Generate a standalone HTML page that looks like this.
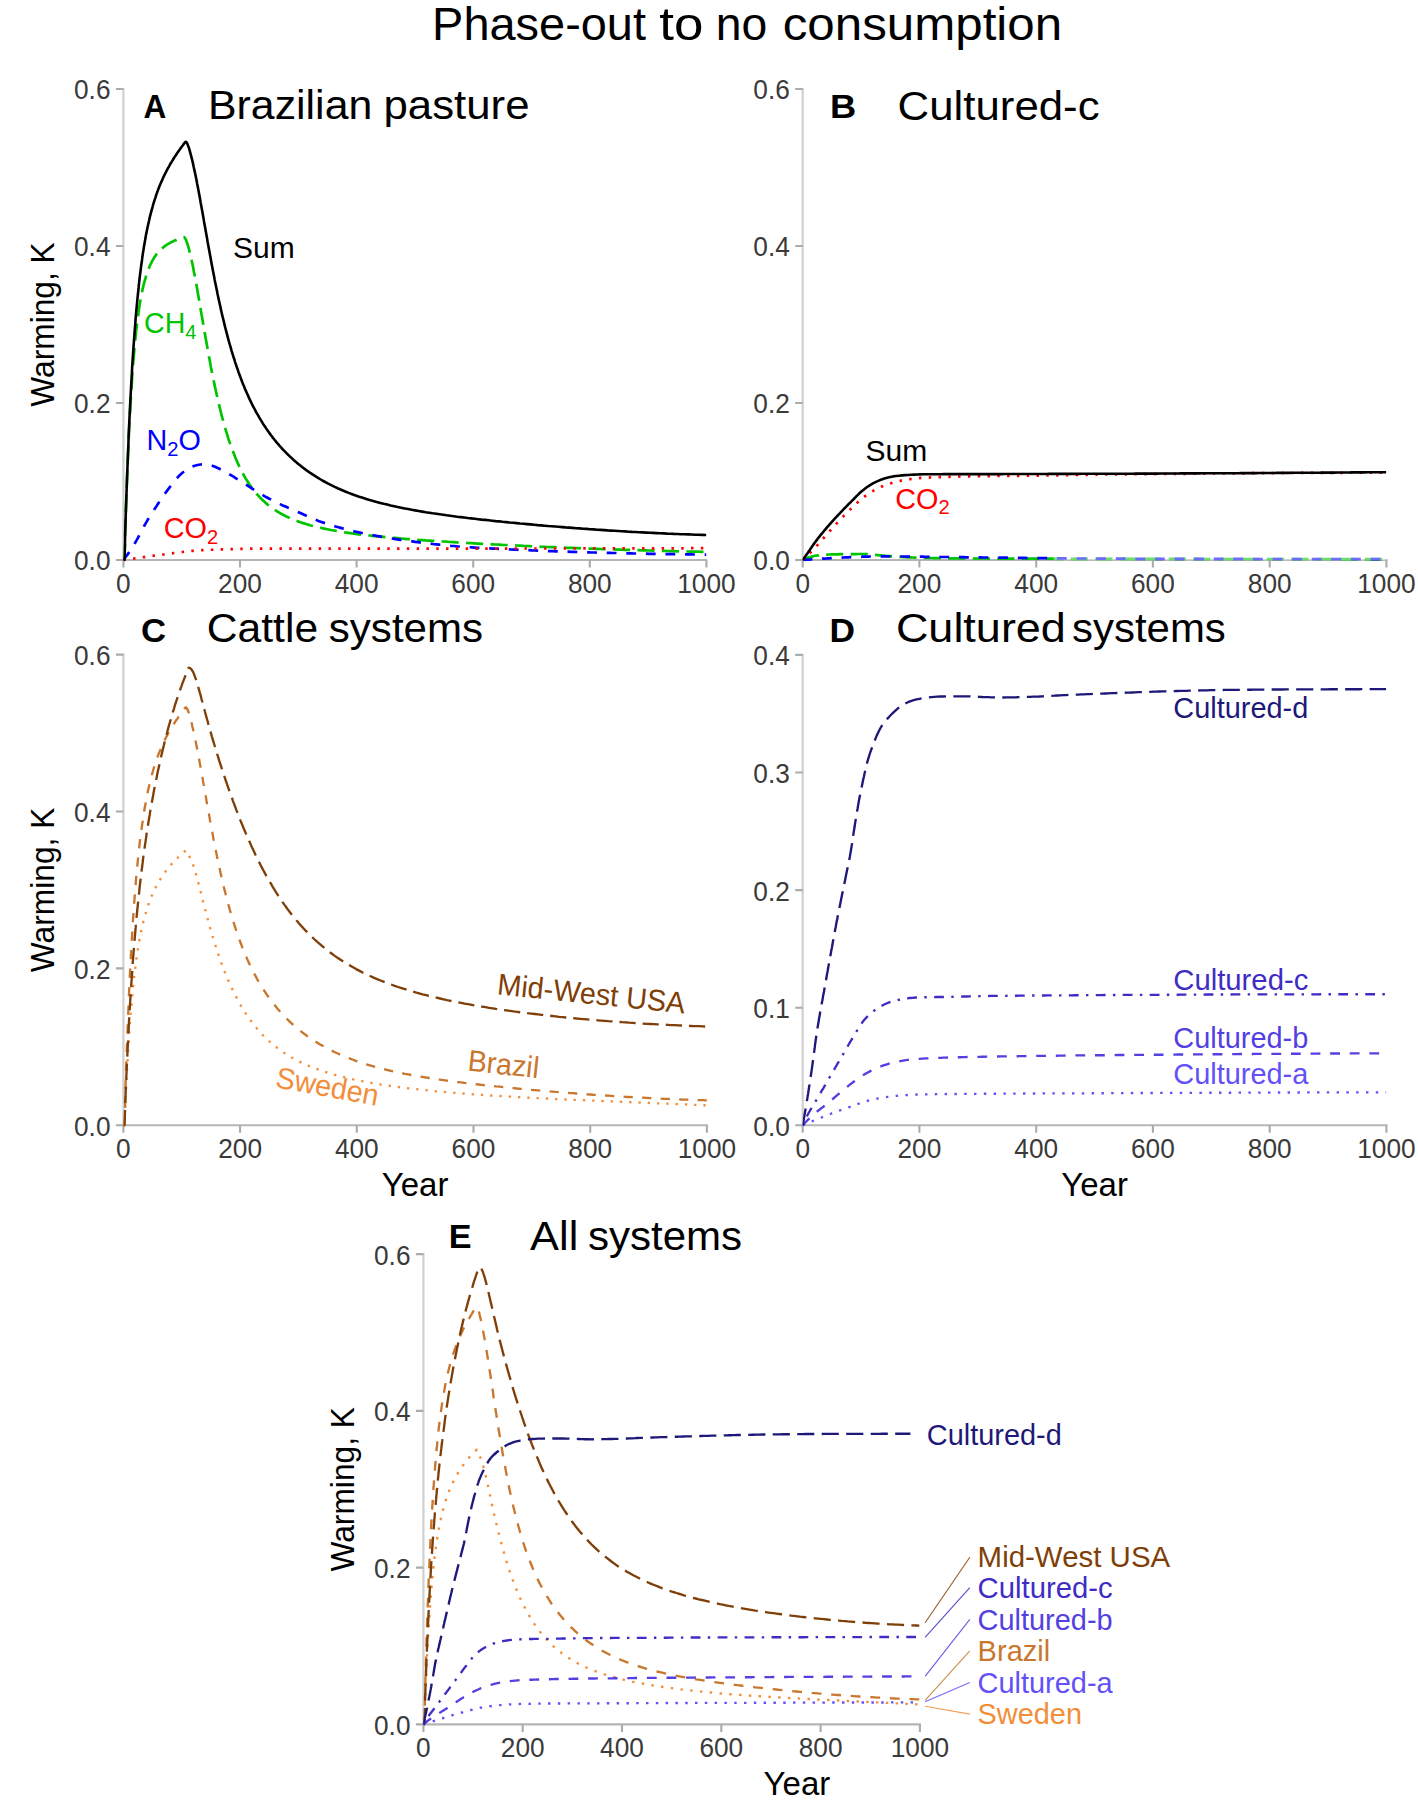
<!DOCTYPE html>
<html lang="en"><head><meta charset="utf-8"><title>Phase-out to no consumption</title>
<style>
html,body{margin:0;padding:0;background:#fff;}
body{width:1418px;height:1801px;overflow:hidden;}
svg{display:block;font-family:"Liberation Sans",sans-serif;}
.tk text{font-size:27px;fill:#3a3a3a;}
.at{font-size:33px;fill:#000;}
.lb{font-size:30px;}
.sub{font-size:21px;}
.mt{font-size:46px;fill:#000;}
.pt{font-size:41.5px;fill:#000;}
.pl{font-size:33.5px;font-weight:bold;fill:#000;}
</style></head><body>
<svg width="1418" height="1801" viewBox="0 0 1418 1801">
<rect width="1418" height="1801" fill="#fff"/>
<text class="mt" y="40.3"><tspan x="432.1" textLength="213.9" lengthAdjust="spacingAndGlyphs">Phase-out</tspan> <tspan x="659.3" textLength="44.1" lengthAdjust="spacingAndGlyphs">to</tspan> <tspan x="715.8" textLength="51.5" lengthAdjust="spacingAndGlyphs">no</tspan> <tspan x="782.7" textLength="279.4" lengthAdjust="spacingAndGlyphs">consumption</tspan></text>
<path d="M123.4,88.0V561.0" fill="none" stroke="#d0d0d0" stroke-width="2.2"/>
<path d="M122.4,560.0H707.4" fill="none" stroke="#b6b6b6" stroke-width="2.1"/>
<path d="M115.9,560.0H123.4M115.9,403.0H123.4M115.9,246.0H123.4M115.9,89.0H123.4M123.4,560.0V567.5M240.0,560.0V567.5M356.6,560.0V567.5M473.2,560.0V567.5M589.8,560.0V567.5M706.4,560.0V567.5" fill="none" stroke="#ababab" stroke-width="2.1"/>
<g class="tk" text-anchor="end">
<text x="110.5" y="570.4" textLength="36.5" lengthAdjust="spacingAndGlyphs">0.0</text>
<text x="110.5" y="413.4" textLength="36.5" lengthAdjust="spacingAndGlyphs">0.2</text>
<text x="110.5" y="256.4" textLength="36.5" lengthAdjust="spacingAndGlyphs">0.4</text>
<text x="110.5" y="99.4" textLength="36.5" lengthAdjust="spacingAndGlyphs">0.6</text>
</g><g class="tk" text-anchor="middle">
<text x="123.4" y="593.0" textLength="14.6" lengthAdjust="spacingAndGlyphs">0</text>
<text x="240.0" y="593.0" textLength="43.8" lengthAdjust="spacingAndGlyphs">200</text>
<text x="356.6" y="593.0" textLength="43.8" lengthAdjust="spacingAndGlyphs">400</text>
<text x="473.2" y="593.0" textLength="43.8" lengthAdjust="spacingAndGlyphs">600</text>
<text x="589.8" y="593.0" textLength="43.8" lengthAdjust="spacingAndGlyphs">800</text>
<text x="706.4" y="593.0" textLength="58.4" lengthAdjust="spacingAndGlyphs">1000</text>
</g>
<text class="at" text-anchor="middle" transform="translate(54.0,324.5) rotate(-90)" textLength="164.5" lengthAdjust="spacingAndGlyphs">Warming, K</text>
<clipPath id="cpA"><rect x="123.4" y="69.0" width="583.0" height="492.3"/></clipPath>
<g clip-path="url(#cpA)">
<polyline points="123.4,560.0 123.7,560.0 124.0,560.0 124.3,560.0 124.6,555.7 124.9,545.4 125.1,535.3 125.4,525.7 125.7,516.4 126.0,507.4 126.3,498.8 126.6,490.4 126.9,482.4 127.2,474.6 127.5,467.1 127.8,459.9 128.1,453.0 128.4,446.2 128.6,439.7 128.9,433.5 129.2,427.4 129.5,421.6 129.8,416.0 130.1,410.6 130.4,405.3 130.7,400.2 131.0,395.3 131.3,390.6 131.6,386.1 131.9,381.6 132.1,377.4 132.4,373.3 132.7,369.3 133.0,365.4 133.3,361.7 133.6,358.1 133.9,354.7 134.2,351.3 134.5,348.0 134.8,344.9 135.1,341.9 135.4,338.9 135.6,336.1 135.9,333.3 136.2,330.7 136.5,328.1 136.8,325.6 137.1,323.2 137.4,320.8 137.7,318.6 138.0,316.4 138.3,314.3 138.6,312.2 138.8,310.2 139.1,308.3 139.4,306.4 139.7,304.6 140.0,302.8 140.3,301.1 140.6,299.5 140.9,297.9 141.2,296.3 141.5,294.8 141.8,293.3 142.1,291.9 142.3,290.5 142.6,289.2 142.9,287.9 143.2,286.6 143.5,285.4 143.8,284.2 144.1,283.1 144.4,281.9 144.7,280.8 145.0,279.8 145.3,278.8 145.6,277.8 145.8,276.8 146.1,275.8 146.4,274.9 146.7,274.0 147.3,272.3 147.9,270.7 148.5,269.1 149.1,267.7 149.6,266.3 150.2,265.0 150.8,263.7 151.4,262.6 152.0,261.4 152.6,260.4 153.1,259.3 153.7,258.4 154.3,257.4 154.9,256.6 155.5,255.7 156.0,254.9 156.6,254.1 157.2,253.4 157.8,252.7 158.4,252.0 159.0,251.4 159.5,250.8 160.1,250.2 160.7,249.6 161.3,249.0 161.9,248.5 162.5,248.0 163.0,247.5 163.6,247.1 164.2,246.6 164.8,246.2 165.4,245.7 166.0,245.3 166.5,244.9 167.1,244.6 167.7,244.2 168.3,243.8 168.9,243.5 169.5,243.2 170.0,242.9 170.6,242.5 171.2,242.2 171.8,241.9 172.4,241.7 173.0,241.4 173.5,241.1 174.1,240.8 174.7,240.6 175.3,240.3 175.9,240.1 176.5,239.9 177.0,239.6 177.6,239.4 178.2,239.2 178.8,239.0 179.4,238.7 180.0,238.5 180.5,238.3 181.1,238.1 181.7,237.9 182.3,237.7 182.9,237.6 183.4,237.4 184.0,237.2 184.6,237.6 185.2,238.4 185.8,239.5 186.4,240.9 186.9,242.4 187.5,244.2 188.1,246.1 188.7,248.2 189.3,250.4 189.9,252.7 190.4,255.2 191.0,257.7 191.6,260.3 192.2,263.0 192.8,265.8 193.4,268.7 193.9,271.7 194.5,274.7 195.1,277.8 195.7,280.9 196.3,284.1 196.9,287.3 197.4,290.6 198.0,293.9 198.6,297.3 199.2,300.6 199.8,304.0 200.4,307.4 200.9,310.8 201.5,314.2 202.1,317.6 202.7,321.0 203.3,324.4 203.9,327.7 204.4,331.1 205.0,334.4 205.6,337.8 206.2,341.1 206.8,344.4 207.4,347.6 207.9,350.8 208.5,354.0 209.1,357.2 209.7,360.3 210.3,363.4 210.8,366.4 211.4,369.4 212.0,372.4 212.6,375.3 213.2,378.2 213.8,381.1 214.3,383.9 214.9,386.6 215.5,389.3 216.1,392.0 216.7,394.6 217.3,397.2 217.8,399.8 218.4,402.3 219.0,404.7 219.6,407.1 220.2,409.5 220.8,411.8 221.3,414.1 221.9,416.4 222.5,418.6 223.1,420.7 223.7,422.8 224.3,424.9 224.8,426.9 225.4,428.9 226.0,430.9 226.6,432.8 227.2,434.7 227.8,436.6 228.3,438.4 228.9,440.2 229.5,441.9 230.1,443.6 230.7,445.3 231.3,446.9 231.8,448.5 232.4,450.1 233.0,451.6 233.6,453.1 234.2,454.6 234.8,456.1 235.3,457.5 235.9,458.9 236.5,460.2 237.1,461.6 237.7,462.9 238.3,464.2 238.8,465.4 239.4,466.7 240.0,467.9 240.6,469.1 241.2,470.2 241.7,471.3 242.3,472.5 242.9,473.5 243.5,474.6 244.1,475.7 244.7,476.7 245.2,477.7 245.8,478.7 246.4,479.6 247.0,480.6 247.6,481.5 248.2,482.4 248.7,483.3 249.3,484.2 249.9,485.0 250.5,485.9 251.1,486.7 251.7,487.5 252.2,488.3 252.8,489.1 253.4,489.8 254.0,490.6 254.6,491.3 255.2,492.0 255.7,492.7 256.3,493.4 256.9,494.1 257.5,494.8 258.1,495.4 258.7,496.1 259.2,496.7 259.8,497.3 260.4,497.9 261.0,498.5 261.6,499.1 262.2,499.7 262.7,500.2 263.3,500.8 263.9,501.3 264.5,501.8 265.1,502.4 265.7,502.9 266.2,503.4 266.8,503.9 267.4,504.4 268.0,504.8 268.6,505.3 269.1,505.8 269.7,506.2 270.3,506.7 270.9,507.1 271.5,507.5 272.1,508.0 272.6,508.4 273.2,508.8 273.8,509.2 274.4,509.6 275.0,510.0 275.6,510.4 276.1,510.7 276.7,511.1 277.3,511.5 277.9,511.8 278.5,512.2 279.1,512.5 279.6,512.9 280.2,513.2 280.8,513.5 281.4,513.9 282.0,514.2 282.6,514.5 283.1,514.8 283.7,515.1 284.3,515.4 284.9,515.7 285.5,516.0 286.1,516.3 286.6,516.6 287.2,516.9 287.8,517.1 288.4,517.4 289.0,517.7 289.6,517.9 290.1,518.2 290.7,518.4 291.3,518.7 291.9,518.9 292.5,519.2 293.1,519.4 293.6,519.7 294.2,519.9 294.8,520.1 295.4,520.4 296.0,520.6 296.6,520.8 297.1,521.0 297.7,521.2 298.3,521.5 298.9,521.7 299.5,521.9 300.0,522.1 300.6,522.3 301.2,522.5 301.8,522.7 302.4,522.9 303.0,523.1 303.5,523.2 304.1,523.4 304.7,523.6 305.3,523.8 305.9,524.0 306.5,524.1 307.0,524.3 307.6,524.5 308.2,524.7 308.8,524.8 309.4,525.0 310.0,525.2 313.5,526.1 317.0,527.0 320.5,527.8 324.0,528.6 327.4,529.3 330.9,530.0 334.4,530.6 337.9,531.2 341.4,531.8 344.9,532.4 348.4,532.9 351.9,533.4 355.4,533.8 358.9,534.3 362.4,534.7 365.9,535.1 369.4,535.5 372.9,535.9 376.4,536.3 379.9,536.6 383.4,536.9 386.9,537.3 390.4,537.6 393.9,537.9 397.4,538.2 400.9,538.5 404.4,538.8 407.9,539.1 411.4,539.3 414.9,539.6 418.4,539.9 421.9,540.1 425.4,540.4 428.9,540.6 432.4,540.8 435.9,541.1 439.4,541.3 442.9,541.5 446.4,541.7 449.9,542.0 453.4,542.2 456.9,542.4 460.4,542.6 463.9,542.8 467.4,543.0 470.9,543.2 474.4,543.4 477.9,543.6 481.4,543.8 484.9,544.0 488.4,544.1 491.9,544.3 495.4,544.5 498.9,544.7 502.4,544.9 505.8,545.0 509.3,545.2 512.8,545.4 516.3,545.5 519.8,545.7 523.3,545.9 526.8,546.0 530.3,546.2 533.8,546.3 537.3,546.5 540.8,546.7 544.3,546.8 547.8,547.0 551.3,547.1 554.8,547.2 558.3,547.4 561.8,547.5 565.3,547.7 568.8,547.8 572.3,547.9 575.8,548.1 579.3,548.2 582.8,548.3 586.3,548.5 589.8,548.6 593.3,548.7 596.8,548.8 600.3,549.0 603.8,549.1 607.3,549.2 610.8,549.3 614.3,549.4 617.8,549.6 621.3,549.7 624.8,549.8 628.3,549.9 631.8,550.0 635.3,550.1 638.8,550.2 642.3,550.3 645.8,550.4 649.3,550.5 652.8,550.6 656.3,550.7 659.8,550.8 663.3,550.9 666.8,551.0 670.3,551.1 673.8,551.2 677.2,551.3 680.7,551.3 684.2,551.4 687.7,551.5 691.2,551.6 694.7,551.7 698.2,551.7 701.7,551.8 705.2,551.9 706.4,551.9" fill="none" stroke="#00c400" stroke-width="2.7" stroke-linejoin="round" stroke-dasharray="17.15 7.35"/>
<polyline points="123.4,560.0 124.0,559.2 124.6,558.4 125.2,557.6 125.8,556.8 126.4,556.0 127.0,555.2 127.6,554.4 128.2,553.6 128.7,552.8 129.3,551.9 129.9,551.1 130.4,550.3 131.0,549.5 131.6,548.6 132.1,547.8 132.6,546.9 133.2,546.1 133.7,545.2 134.2,544.4 134.7,543.5 135.2,542.7 135.7,541.8 136.2,540.9 136.7,540.1 137.2,539.2 137.7,538.3 138.2,537.4 138.6,536.5 139.1,535.7 139.6,534.8 140.0,533.9 140.5,533.0 141.0,532.1 141.4,531.2 141.9,530.3 142.3,529.5 142.8,528.6 143.3,527.7 143.8,526.8 144.2,525.9 144.7,525.0 145.2,524.2 145.7,523.3 146.2,522.4 146.7,521.6 147.2,520.7 147.7,519.8 148.2,519.0 148.7,518.1 149.3,517.3 149.8,516.4 150.3,515.6 150.9,514.7 151.4,513.9 151.9,513.1 152.5,512.2 153.0,511.4 153.6,510.5 154.1,509.7 154.7,508.9 155.2,508.0 155.8,507.2 156.3,506.4 156.9,505.5 157.4,504.7 158.0,503.9 158.5,503.0 159.1,502.2 159.7,501.4 160.2,500.5 160.8,499.7 161.3,498.9 161.9,498.1 162.5,497.2 163.0,496.4 163.6,495.6 164.2,494.8 164.8,493.9 165.3,493.1 166.5,491.5 168.3,489.1 170.1,486.7 171.9,484.3 173.8,481.9 175.7,479.6 177.7,477.4 179.7,475.2 181.9,473.2 184.3,471.3 186.7,469.6 189.3,468.1 191.9,466.8 194.7,465.7 197.6,465.0 200.5,464.5 203.4,464.4 206.4,464.6 209.3,465.1 212.2,465.8 215.0,466.8 217.7,468.0 220.4,469.3 223.1,470.7 225.7,472.2 228.3,473.7 230.9,475.2 233.5,476.7 236.0,478.3 238.6,479.9 241.1,481.5 243.6,483.1 246.2,484.7 248.7,486.3 251.2,488.0 253.7,489.6 256.3,491.2 258.8,492.8 261.4,494.3 264.0,495.8 266.6,497.3 269.3,498.7 271.9,500.1 274.6,501.5 277.3,502.8 280.0,504.1 282.7,505.4 285.5,506.6 288.2,507.8 291.0,508.9 293.7,510.1 296.5,511.3 299.2,512.5 302.0,513.7 304.7,515.0 307.4,516.2 310.2,517.4 312.9,518.6 315.7,519.8 318.5,520.9 321.3,521.9 324.2,522.9 327.0,523.8 329.9,524.7 332.7,525.6 335.6,526.5 338.5,527.3 341.4,528.1 344.3,528.9 347.2,529.6 350.1,530.4 353.0,531.0 356.0,531.7 358.9,532.4 361.8,533.0 364.8,533.6 367.7,534.2 370.7,534.8 373.6,535.3 376.6,535.9 379.5,536.4 382.5,536.9 385.4,537.4 388.4,537.9 391.4,538.4 394.3,538.9 397.3,539.3 400.3,539.8 403.2,540.2 406.2,540.6 409.2,541.0 412.2,541.4 415.1,541.8 418.1,542.2 421.1,542.6 424.1,542.9 427.0,543.3 430.0,543.6 433.0,544.0 436.0,544.3 439.0,544.6 442.0,544.9 445.0,545.2 447.9,545.5 450.9,545.8 453.9,546.0 456.9,546.3 459.9,546.5 462.9,546.7 465.9,547.0 468.9,547.2 471.9,547.4 474.9,547.6 477.9,547.8 480.9,547.9 483.9,548.1 486.9,548.3 489.9,548.4 492.9,548.6 495.9,548.7 498.9,548.9 501.9,549.0 504.9,549.2 507.9,549.3 510.9,549.5 513.9,549.6 516.8,549.7 519.8,549.9 522.8,550.0 525.8,550.1 528.8,550.2 531.8,550.4 534.8,550.5 537.8,550.6 540.8,550.7 543.8,550.9 546.8,551.0 549.8,551.1 552.8,551.2 555.8,551.3 558.8,551.4 561.8,551.5 564.8,551.6 567.8,551.7 570.8,551.8 573.8,551.9 576.8,552.0 579.8,552.1 582.8,552.2 585.8,552.3 588.8,552.4 591.8,552.5 594.8,552.5 597.8,552.6 600.9,552.7 603.9,552.8 606.9,552.8 609.9,552.9 612.9,553.0 615.9,553.0 618.9,553.1 621.9,553.2 624.9,553.3 627.9,553.3 630.9,553.4 633.9,553.5 636.9,553.5 639.9,553.6 642.9,553.6 645.9,553.7 648.9,553.8 651.9,553.8 654.9,553.9 657.9,553.9 660.9,554.0 663.9,554.0 666.9,554.1 669.9,554.1 672.9,554.2 675.9,554.2 678.9,554.3 681.9,554.3 684.9,554.4 687.9,554.4 690.9,554.4 693.9,554.5 696.9,554.5 699.9,554.5 702.9,554.6 705.9,554.6 706.4,554.6" fill="none" stroke="#0000ff" stroke-width="2.7" stroke-linejoin="round" stroke-dasharray="9.80 9.80"/>
<polyline points="123.4,560.0 124.4,559.9 125.4,559.7 126.4,559.6 127.4,559.4 128.4,559.3 129.3,559.2 130.3,559.0 131.3,558.9 132.3,558.7 133.3,558.6 134.3,558.5 135.3,558.3 136.3,558.2 137.3,558.0 138.3,557.9 139.2,557.8 140.2,557.6 141.2,557.5 142.2,557.3 143.2,557.2 144.2,557.1 145.2,556.9 146.2,556.8 147.2,556.7 148.2,556.5 149.2,556.4 150.1,556.2 151.1,556.1 152.1,556.0 153.1,555.8 154.1,555.7 155.1,555.6 156.1,555.4 157.1,555.3 158.1,555.2 159.1,555.0 160.1,554.9 161.0,554.8 162.0,554.6 163.0,554.5 164.0,554.4 165.0,554.2 166.0,554.1 167.0,554.0 168.0,553.8 169.0,553.7 170.0,553.6 171.0,553.4 172.0,553.3 172.9,553.2 173.9,553.0 174.9,552.9 175.9,552.8 176.9,552.6 177.9,552.5 178.9,552.4 179.9,552.2 180.9,552.1 181.9,552.0 182.9,551.9 183.9,551.7 184.8,551.6 185.8,551.5 186.8,551.4 187.8,551.3 188.8,551.2 189.8,551.1 190.8,551.0 191.8,550.9 192.8,550.8 193.8,550.7 194.8,550.7 195.8,550.6 196.8,550.5 197.8,550.4 198.8,550.4 199.8,550.3 200.8,550.3 201.8,550.2 203.8,550.1 206.8,549.9 209.8,549.8 212.8,549.7 215.8,549.5 218.8,549.4 221.8,549.3 224.8,549.3 227.8,549.2 230.8,549.1 233.8,549.0 236.8,548.9 239.8,548.9 242.8,548.8 245.8,548.8 248.8,548.7 251.8,548.7 254.8,548.7 257.8,548.7 260.8,548.7 263.8,548.7 266.8,548.7 269.8,548.7 272.8,548.7 275.8,548.7 278.8,548.7 281.8,548.7 284.8,548.7 287.8,548.7 290.8,548.7 293.8,548.7 296.8,548.7 299.8,548.7 302.8,548.7 305.8,548.7 308.8,548.7 311.8,548.7 314.8,548.7 317.8,548.7 320.8,548.7 323.8,548.7 326.8,548.7 329.8,548.7 332.8,548.7 335.8,548.7 338.8,548.7 341.8,548.7 344.8,548.7 347.8,548.7 350.8,548.7 353.8,548.7 356.8,548.7 359.8,548.7 362.8,548.7 365.8,548.7 368.8,548.7 371.8,548.7 374.8,548.7 377.8,548.7 380.8,548.7 383.8,548.7 386.8,548.7 389.8,548.7 392.8,548.7 395.8,548.7 398.8,548.7 401.8,548.7 404.8,548.7 407.8,548.7 410.8,548.7 413.8,548.7 416.8,548.7 419.8,548.7 422.8,548.6 425.8,548.6 428.8,548.6 431.8,548.6 434.8,548.6 437.8,548.6 440.8,548.6 443.8,548.6 446.8,548.6 449.8,548.6 452.8,548.6 455.8,548.6 458.8,548.6 461.8,548.6 464.8,548.6 467.8,548.6 470.8,548.6 473.8,548.6 476.8,548.6 479.8,548.6 482.8,548.6 485.8,548.6 488.8,548.6 491.8,548.6 494.8,548.6 497.8,548.6 500.8,548.6 503.8,548.6 506.8,548.6 509.8,548.6 512.8,548.6 515.8,548.5 518.8,548.5 521.8,548.5 524.8,548.5 527.9,548.5 530.9,548.5 533.9,548.5 536.9,548.5 539.9,548.5 542.9,548.5 545.9,548.5 548.9,548.5 551.9,548.5 554.9,548.5 557.9,548.5 560.9,548.5 563.9,548.5 566.9,548.5 569.9,548.5 572.9,548.5 575.9,548.5 578.9,548.5 581.9,548.5 584.9,548.4 587.9,548.4 590.9,548.4 593.9,548.4 596.9,548.4 599.9,548.4 602.9,548.4 605.9,548.4 608.9,548.4 611.9,548.4 614.9,548.4 617.9,548.4 620.9,548.4 623.9,548.4 626.9,548.4 629.9,548.4 632.9,548.4 635.9,548.4 638.9,548.3 641.9,548.3 644.9,548.3 647.9,548.3 650.9,548.3 653.9,548.3 656.9,548.3 659.9,548.3 662.9,548.3 665.9,548.3 668.9,548.3 671.9,548.3 674.9,548.3 677.9,548.3 680.9,548.3 683.9,548.3 686.9,548.2 689.9,548.2 692.9,548.2 695.9,548.2 698.9,548.2 701.9,548.2 704.9,548.2 706.4,548.2" fill="none" stroke="#ff0000" stroke-width="2.7" stroke-linejoin="round" stroke-dasharray="2.45 7.35"/>
<polyline points="123.4,560.0 123.7,560.0 124.0,560.0 124.3,560.0 124.6,555.8 124.9,545.5 125.1,535.6 125.4,526.0 125.7,516.6 126.0,507.5 126.3,498.8 126.6,490.2 126.9,482.0 127.2,474.0 127.5,466.2 127.8,458.6 128.1,451.3 128.4,444.2 128.6,437.3 128.9,430.6 129.2,424.1 129.5,417.7 129.8,411.6 130.1,405.6 130.4,399.8 130.7,394.2 131.0,388.7 131.3,383.4 131.6,378.2 131.9,373.2 132.1,368.3 132.4,363.5 132.7,358.9 133.0,354.4 133.3,350.0 133.6,345.7 133.9,341.6 134.2,337.5 134.5,333.6 134.8,329.8 135.1,326.0 135.4,322.4 135.6,318.8 135.9,315.4 136.2,312.0 136.5,308.7 136.8,305.5 137.1,302.4 137.4,299.4 137.7,296.4 138.0,293.5 138.3,290.7 138.6,287.9 138.8,285.2 139.1,282.6 139.4,280.0 139.7,277.5 140.0,275.0 140.3,272.7 140.6,270.3 140.9,268.0 141.2,265.8 141.5,263.6 141.8,261.5 142.1,259.4 142.3,257.4 142.6,255.4 142.9,253.4 143.2,251.5 143.5,249.6 143.8,247.8 144.1,246.0 144.4,244.3 144.7,242.5 145.0,240.8 145.3,239.2 145.6,237.6 145.8,236.0 146.1,234.5 146.4,232.9 146.7,231.4 147.3,228.5 147.9,225.8 148.5,223.1 149.1,220.5 149.6,218.0 150.2,215.6 150.8,213.3 151.4,211.1 152.0,208.9 152.6,206.8 153.1,204.8 153.7,202.8 154.3,200.9 154.9,199.1 155.5,197.3 156.0,195.5 156.6,193.9 157.2,192.2 157.8,190.6 158.4,189.1 159.0,187.6 159.5,186.1 160.1,184.7 160.7,183.3 161.3,181.9 161.9,180.6 162.5,179.3 163.0,178.0 163.6,176.7 164.2,175.5 164.8,174.3 165.4,173.1 166.0,172.0 166.5,170.9 167.1,169.8 167.7,168.7 168.3,167.6 168.9,166.6 169.5,165.5 170.0,164.5 170.6,163.5 171.2,162.5 171.8,161.6 172.4,160.6 173.0,159.7 173.5,158.7 174.1,157.8 174.7,156.9 175.3,156.0 175.9,155.1 176.5,154.3 177.0,153.4 177.6,152.5 178.2,151.7 178.8,150.9 179.4,150.0 180.0,149.2 180.5,148.4 181.1,147.6 181.7,146.8 182.3,146.0 182.9,145.2 183.4,144.4 184.0,143.6 184.6,142.9 184.9,142.5 185.5,141.9 186.1,141.9 186.6,142.5 187.2,143.5 187.8,144.9 188.4,146.4 189.0,148.2 189.6,150.1 190.1,152.1 190.7,154.3 191.3,156.6 191.9,158.9 192.5,161.4 193.1,163.9 193.6,166.5 194.2,169.2 194.8,171.9 195.4,174.7 196.0,177.6 196.6,180.5 197.1,183.5 197.7,186.5 198.3,189.6 198.9,192.7 199.5,195.9 200.1,199.1 200.6,202.3 201.2,205.6 201.8,208.8 202.4,212.1 203.0,215.4 203.6,218.7 204.1,222.0 204.7,225.3 205.3,228.6 205.9,232.0 206.5,235.3 207.1,238.6 207.6,241.8 208.2,245.1 208.8,248.3 209.4,251.6 210.0,254.8 210.6,258.0 211.1,261.1 211.7,264.2 212.3,267.3 212.9,270.4 213.5,273.5 214.1,276.5 214.6,279.4 215.2,282.4 215.8,285.3 216.4,288.2 217.0,291.0 217.5,293.8 218.1,296.6 218.7,299.3 219.3,302.0 219.9,304.7 220.5,307.3 221.0,309.9 221.6,312.5 222.2,315.0 222.8,317.5 223.4,319.9 224.0,322.3 224.5,324.7 225.1,327.0 225.7,329.3 226.3,331.6 226.9,333.9 227.5,336.1 228.0,338.2 228.6,340.4 229.2,342.5 229.8,344.5 230.4,346.6 231.0,348.6 231.5,350.6 232.1,352.5 232.7,354.4 233.3,356.3 233.9,358.2 234.5,360.0 235.0,361.8 235.6,363.6 236.2,365.3 236.8,367.1 237.4,368.8 238.0,370.4 238.5,372.1 239.1,373.7 239.7,375.3 240.3,376.9 240.9,378.4 241.5,380.0 242.0,381.5 242.6,382.9 243.2,384.4 243.8,385.8 244.4,387.3 244.9,388.7 245.5,390.0 246.1,391.4 246.7,392.7 247.3,394.0 247.9,395.3 248.4,396.6 249.0,397.9 249.6,399.1 250.2,400.4 250.8,401.6 251.4,402.8 251.9,404.0 252.5,405.1 253.1,406.3 253.7,407.4 254.3,408.5 254.9,409.6 255.4,410.7 256.0,411.8 256.6,412.8 257.2,413.9 257.8,414.9 258.4,415.9 258.9,416.9 259.5,417.9 260.1,418.9 260.7,419.9 261.3,420.9 261.9,421.8 262.4,422.7 263.0,423.7 263.6,424.6 264.2,425.5 264.8,426.3 265.4,427.2 265.9,428.1 266.5,429.0 267.1,429.8 267.7,430.6 268.3,431.5 268.9,432.3 269.4,433.1 270.0,433.9 270.6,434.7 271.2,435.5 271.8,436.2 272.4,437.0 272.9,437.8 273.5,438.5 274.1,439.2 274.7,440.0 275.3,440.7 275.8,441.4 276.4,442.1 277.0,442.8 277.6,443.5 278.2,444.2 278.8,444.9 279.3,445.5 279.9,446.2 280.5,446.8 281.1,447.5 281.7,448.1 282.3,448.8 282.8,449.4 283.4,450.0 284.0,450.6 284.6,451.2 285.2,451.8 285.8,452.4 286.3,453.0 286.9,453.6 287.5,454.2 288.1,454.8 288.7,455.3 289.3,455.9 289.8,456.5 290.4,457.0 291.0,457.6 291.6,458.1 292.2,458.6 292.8,459.2 293.3,459.7 293.9,460.2 294.5,460.7 295.1,461.2 295.7,461.7 296.3,462.2 296.8,462.7 297.4,463.2 298.0,463.7 298.6,464.2 299.2,464.7 299.8,465.1 300.3,465.6 300.9,466.1 301.5,466.5 302.1,467.0 302.7,467.4 303.2,467.9 303.8,468.3 304.4,468.7 305.0,469.2 305.6,469.6 306.2,470.0 306.7,470.5 307.3,470.9 307.9,471.3 308.5,471.7 309.1,472.1 309.7,472.5 310.2,472.9 313.7,475.2 317.2,477.4 320.7,479.5 324.2,481.5 327.7,483.4 331.2,485.2 334.7,486.9 338.2,488.5 341.7,490.0 345.2,491.5 348.7,492.9 352.2,494.2 355.7,495.5 359.2,496.7 362.7,497.8 366.2,498.9 369.7,500.0 373.2,501.0 376.7,502.0 380.2,502.9 383.7,503.8 387.2,504.6 390.7,505.5 394.2,506.2 397.7,507.0 401.2,507.7 404.7,508.4 408.2,509.1 411.7,509.8 415.2,510.4 418.7,511.0 422.2,511.6 425.7,512.2 429.2,512.7 432.7,513.3 436.2,513.8 439.7,514.3 443.2,514.8 446.7,515.3 450.2,515.7 453.7,516.2 457.2,516.7 460.7,517.1 464.2,517.5 467.7,518.0 471.2,518.4 474.7,518.8 478.1,519.2 481.6,519.6 485.1,519.9 488.6,520.3 492.1,520.7 495.6,521.1 499.1,521.4 502.6,521.8 506.1,522.1 509.6,522.5 513.1,522.8 516.6,523.1 520.1,523.5 523.6,523.8 527.1,524.1 530.6,524.4 534.1,524.7 537.6,525.1 541.1,525.4 544.6,525.7 548.1,526.0 551.6,526.2 555.1,526.5 558.6,526.8 562.1,527.1 565.6,527.4 569.1,527.6 572.6,527.9 576.1,528.2 579.6,528.4 583.1,528.7 586.6,528.9 590.1,529.2 593.6,529.4 597.1,529.7 600.6,529.9 604.1,530.1 607.6,530.4 611.1,530.6 614.6,530.8 618.1,531.0 621.6,531.2 625.1,531.4 628.6,531.7 632.1,531.9 635.6,532.0 639.1,532.2 642.6,532.4 646.1,532.6 649.6,532.8 653.0,532.9 656.5,533.1 660.0,533.3 663.5,533.4 667.0,533.6 670.5,533.7 674.0,533.9 677.5,534.0 681.0,534.2 684.5,534.3 688.0,534.4 691.5,534.5 695.0,534.7 698.5,534.8 702.0,534.9 705.5,535.0 706.4,535.0" fill="none" stroke="#000000" stroke-width="2.6" stroke-linejoin="round"/>
</g>
<text class="pl" x="143.6" y="118.0" textLength="22.8" lengthAdjust="spacingAndGlyphs">A</text>
<text class="pt" y="119.3"><tspan x="208.0" textLength="164.3" lengthAdjust="spacingAndGlyphs">Brazilian</tspan> <tspan x="383.5" textLength="146.0" lengthAdjust="spacingAndGlyphs">pasture</tspan></text>
<text class="lb" x="233.0" y="257.6" fill="#000">Sum</text>
<text class="lb" x="144.0" y="333.2" fill="#00c400" textLength="52.5" lengthAdjust="spacingAndGlyphs">CH<tspan class="sub" dy="5.6">4</tspan></text>
<text class="lb" x="146.6" y="450.4" fill="#0000ff" textLength="54.3" lengthAdjust="spacingAndGlyphs">N<tspan class="sub" dy="5.6">2</tspan><tspan dy="-5.6">O</tspan></text>
<text class="lb" x="163.8" y="538" fill="#ff0000" textLength="54.4" lengthAdjust="spacingAndGlyphs">CO<tspan class="sub" dy="5.6">2</tspan></text>
<path d="M802.7,88.0V561.0" fill="none" stroke="#d0d0d0" stroke-width="2.2"/>
<path d="M801.7,560.0H1387.4" fill="none" stroke="#b6b6b6" stroke-width="2.1"/>
<path d="M795.2,560.0H802.7M795.2,403.0H802.7M795.2,246.0H802.7M795.2,89.0H802.7M802.7,560.0V567.5M919.4,560.0V567.5M1036.2,560.0V567.5M1152.9,560.0V567.5M1269.7,560.0V567.5M1386.4,560.0V567.5" fill="none" stroke="#ababab" stroke-width="2.1"/>
<g class="tk" text-anchor="end">
<text x="789.8" y="570.4" textLength="36.5" lengthAdjust="spacingAndGlyphs">0.0</text>
<text x="789.8" y="413.4" textLength="36.5" lengthAdjust="spacingAndGlyphs">0.2</text>
<text x="789.8" y="256.4" textLength="36.5" lengthAdjust="spacingAndGlyphs">0.4</text>
<text x="789.8" y="99.4" textLength="36.5" lengthAdjust="spacingAndGlyphs">0.6</text>
</g><g class="tk" text-anchor="middle">
<text x="802.7" y="593.0" textLength="14.6" lengthAdjust="spacingAndGlyphs">0</text>
<text x="919.4" y="593.0" textLength="43.8" lengthAdjust="spacingAndGlyphs">200</text>
<text x="1036.2" y="593.0" textLength="43.8" lengthAdjust="spacingAndGlyphs">400</text>
<text x="1152.9" y="593.0" textLength="43.8" lengthAdjust="spacingAndGlyphs">600</text>
<text x="1269.7" y="593.0" textLength="43.8" lengthAdjust="spacingAndGlyphs">800</text>
<text x="1386.4" y="593.0" textLength="58.4" lengthAdjust="spacingAndGlyphs">1000</text>
</g>
<clipPath id="cpB"><rect x="802.7" y="69.0" width="583.7" height="492.3"/></clipPath>
<g clip-path="url(#cpB)">
<polyline points="802.7,560.0 803.0,559.9 803.3,559.7 803.6,559.6 803.9,559.5 804.2,559.3 804.5,559.2 804.7,559.1 805.0,559.0 805.3,558.8 805.6,558.7 805.9,558.6 806.2,558.5 806.5,558.4 806.8,558.3 807.1,558.1 807.4,558.0 807.7,557.9 808.0,557.8 808.2,557.7 808.5,557.6 808.8,557.6 809.1,557.5 809.4,557.4 809.7,557.3 810.0,557.2 810.3,557.1 810.6,557.0 810.9,556.9 811.2,556.8 811.5,556.7 811.7,556.7 812.0,556.6 812.3,556.5 812.6,556.4 812.9,556.3 813.2,556.3 813.5,556.2 813.8,556.1 814.1,556.0 814.4,556.0 814.7,555.9 815.0,555.8 815.2,555.8 815.5,555.7 815.8,555.7 816.1,555.6 816.4,555.6 816.7,555.5 817.0,555.5 817.3,555.4 817.6,555.4 817.9,555.4 818.2,555.3 818.5,555.3 818.8,555.3 819.0,555.2 819.3,555.2 819.6,555.2 819.9,555.1 820.2,555.1 820.5,555.1 820.8,555.1 821.1,555.0 821.4,555.0 821.7,555.0 822.0,554.9 822.3,554.9 822.5,554.9 822.8,554.9 823.1,554.8 823.4,554.8 823.7,554.8 824.0,554.8 824.3,554.8 824.6,554.7 824.9,554.7 825.2,554.7 825.5,554.7 825.8,554.7 826.0,554.6 826.6,554.6 827.2,554.6 827.8,554.5 828.4,554.5 829.0,554.5 829.6,554.5 830.1,554.5 830.7,554.4 831.3,554.4 831.9,554.4 832.5,554.4 833.1,554.4 833.6,554.4 834.2,554.4 834.8,554.3 835.4,554.3 836.0,554.3 836.6,554.3 837.1,554.3 837.7,554.3 838.3,554.3 838.9,554.3 839.5,554.2 840.1,554.2 840.6,554.2 841.2,554.2 841.8,554.2 842.4,554.2 843.0,554.2 843.6,554.2 844.1,554.2 844.7,554.2 845.3,554.2 845.9,554.1 846.5,554.1 847.1,554.1 847.6,554.1 848.2,554.1 848.8,554.1 849.4,554.1 850.0,554.1 850.6,554.1 851.1,554.1 851.7,554.1 852.3,554.1 852.9,554.1 853.5,554.1 854.1,554.1 854.6,554.1 855.2,554.1 855.8,554.1 856.4,554.1 857.0,554.1 857.6,554.0 858.2,554.0 858.7,554.0 859.3,554.0 859.9,554.0 860.5,554.0 861.1,554.0 861.7,554.0 862.2,554.0 862.8,554.0 863.4,554.0 864.0,554.0 864.6,554.1 865.2,554.1 865.7,554.1 866.3,554.2 866.9,554.2 867.5,554.2 868.1,554.3 868.7,554.3 869.2,554.4 869.8,554.4 870.4,554.5 871.0,554.5 871.6,554.6 872.2,554.6 872.7,554.7 873.3,554.7 873.9,554.8 874.5,554.8 875.1,554.9 875.7,554.9 876.2,555.0 876.8,555.0 877.4,555.1 878.0,555.1 878.6,555.2 879.2,555.3 879.7,555.3 880.3,555.4 880.9,555.4 881.5,555.5 882.1,555.6 882.7,555.6 883.3,555.7 883.8,555.7 884.4,555.8 885.0,555.8 885.6,555.9 886.2,555.9 886.8,556.0 887.3,556.0 887.9,556.0 888.5,556.1 889.1,556.1 889.7,556.2 890.3,556.2 890.8,556.3 891.4,556.3 892.0,556.4 892.6,556.4 893.2,556.5 893.8,556.5 894.3,556.5 894.9,556.6 895.5,556.6 896.1,556.7 896.7,556.7 897.3,556.7 897.8,556.8 898.4,556.8 899.0,556.9 899.6,556.9 900.2,556.9 900.8,557.0 901.3,557.0 901.9,557.0 902.5,557.0 903.1,557.1 903.7,557.1 904.3,557.1 904.8,557.2 905.4,557.2 906.0,557.2 906.6,557.2 907.2,557.3 907.8,557.3 908.3,557.3 908.9,557.4 909.5,557.4 910.1,557.4 910.7,557.4 911.3,557.4 911.9,557.5 912.4,557.5 913.0,557.5 913.6,557.5 914.2,557.6 914.8,557.6 915.4,557.6 915.9,557.6 916.5,557.6 917.1,557.7 917.7,557.7 918.3,557.7 918.9,557.7 919.4,557.7 920.0,557.7 920.6,557.8 921.2,557.8 921.8,557.8 922.4,557.8 922.9,557.8 923.5,557.8 924.1,557.8 924.7,557.9 925.3,557.9 925.9,557.9 926.4,557.9 927.0,557.9 927.6,557.9 928.2,557.9 928.8,557.9 929.4,558.0 929.9,558.0 930.5,558.0 931.1,558.0 931.7,558.0 932.3,558.0 932.9,558.0 933.4,558.0 934.0,558.1 934.6,558.1 935.2,558.1 935.8,558.1 936.4,558.1 937.0,558.1 937.5,558.1 938.1,558.1 938.7,558.1 939.3,558.1 939.9,558.2 940.5,558.2 941.0,558.2 941.6,558.2 942.2,558.2 942.8,558.2 943.4,558.2 944.0,558.2 944.5,558.2 945.1,558.2 945.7,558.2 946.3,558.2 946.9,558.3 947.5,558.3 948.0,558.3 948.6,558.3 949.2,558.3 949.8,558.3 950.4,558.3 951.0,558.3 951.5,558.3 952.1,558.3 952.7,558.3 953.3,558.3 953.9,558.3 954.5,558.3 955.0,558.3 955.6,558.3 956.2,558.4 956.8,558.4 957.4,558.4 958.0,558.4 958.5,558.4 959.1,558.4 959.7,558.4 960.3,558.4 960.9,558.4 961.5,558.4 962.1,558.4 962.6,558.4 963.2,558.4 963.8,558.4 964.4,558.4 965.0,558.4 965.6,558.4 966.1,558.4 966.7,558.4 967.3,558.4 967.9,558.5 968.5,558.5 969.1,558.5 969.6,558.5 970.2,558.5 970.8,558.5 971.4,558.5 972.0,558.5 972.6,558.5 973.1,558.5 973.7,558.5 974.3,558.5 974.9,558.5 975.5,558.5 976.1,558.5 976.6,558.5 977.2,558.5 977.8,558.5 978.4,558.5 979.0,558.5 979.6,558.5 980.1,558.5 980.7,558.5 981.3,558.5 981.9,558.5 982.5,558.5 983.1,558.5 983.6,558.5 984.2,558.5 984.8,558.5 985.4,558.5 986.0,558.5 986.6,558.5 987.1,558.5 987.7,558.6 988.3,558.6 988.9,558.6 989.5,558.6 993.0,558.6 996.5,558.6 1000.0,558.6 1003.5,558.6 1007.0,558.6 1010.5,558.6 1014.0,558.6 1017.5,558.7 1021.0,558.7 1024.5,558.7 1028.0,558.7 1031.5,558.7 1035.0,558.7 1038.5,558.7 1042.0,558.7 1045.5,558.7 1049.0,558.7 1052.5,558.7 1056.0,558.8 1059.5,558.8 1063.0,558.8 1066.5,558.8 1070.0,558.8 1073.5,558.8 1077.0,558.8 1080.5,558.8 1084.0,558.8 1087.5,558.8 1091.0,558.8 1094.6,558.8 1098.1,558.8 1101.6,558.8 1105.1,558.8 1108.6,558.8 1112.1,558.8 1115.6,558.9 1119.1,558.9 1122.6,558.9 1126.1,558.9 1129.6,558.9 1133.1,558.9 1136.6,558.9 1140.1,558.9 1143.6,558.9 1147.1,558.9 1150.6,558.9 1154.1,558.9 1157.6,558.9 1161.1,558.9 1164.6,558.9 1168.1,558.9 1171.6,558.9 1175.1,558.9 1178.6,558.9 1182.1,558.9 1185.6,558.9 1189.1,558.9 1192.6,558.9 1196.1,558.9 1199.6,558.9 1203.1,559.0 1206.6,559.0 1210.1,559.0 1213.6,559.0 1217.1,559.0 1220.6,559.0 1224.1,559.0 1227.6,559.0 1231.1,559.0 1234.6,559.0 1238.1,559.0 1241.6,559.0 1245.1,559.0 1248.6,559.0 1252.1,559.0 1255.7,559.0 1259.2,559.0 1262.7,559.0 1266.2,559.0 1269.7,559.0 1273.2,559.0 1276.7,559.0 1280.2,559.0 1283.7,559.0 1287.2,559.0 1290.7,559.0 1294.2,559.0 1297.7,559.0 1301.2,559.0 1304.7,559.0 1308.2,559.0 1311.7,559.0 1315.2,559.0 1318.7,559.0 1322.2,559.0 1325.7,559.0 1329.2,559.0 1332.7,559.0 1336.2,559.0 1339.7,559.1 1343.2,559.1 1346.7,559.1 1350.2,559.1 1353.7,559.1 1357.2,559.1 1360.7,559.1 1364.2,559.1 1367.7,559.1 1371.2,559.1 1374.7,559.1 1378.2,559.1 1381.7,559.1 1385.2,559.1 1386.4,559.1" fill="none" stroke="#00c400" stroke-width="2.7" stroke-linejoin="round" stroke-dasharray="17.15 7.35"/>
<polyline points="802.7,560.0 803.0,560.0 803.3,560.0 803.6,559.9 803.9,559.9 804.2,559.9 804.5,559.9 804.7,559.9 805.0,559.8 805.3,559.8 805.6,559.8 805.9,559.8 806.2,559.8 806.5,559.8 806.8,559.7 807.1,559.7 807.4,559.7 807.7,559.7 808.0,559.7 808.2,559.6 808.5,559.6 808.8,559.6 809.1,559.6 809.4,559.6 809.7,559.5 810.0,559.5 810.3,559.5 810.6,559.5 810.9,559.5 811.2,559.4 811.5,559.4 811.7,559.4 812.0,559.4 812.3,559.4 812.6,559.4 812.9,559.3 813.2,559.3 813.5,559.3 813.8,559.3 814.1,559.3 814.4,559.2 814.7,559.2 815.0,559.2 815.2,559.2 815.5,559.2 815.8,559.2 816.1,559.1 816.4,559.1 816.7,559.1 817.0,559.1 817.3,559.1 817.6,559.0 817.9,559.0 818.2,559.0 818.5,559.0 818.8,559.0 819.0,558.9 819.3,558.9 819.6,558.9 819.9,558.9 820.2,558.9 820.5,558.9 820.8,558.8 821.1,558.8 821.4,558.8 821.7,558.8 822.0,558.8 822.3,558.7 822.5,558.7 822.8,558.7 823.1,558.7 823.4,558.7 823.7,558.6 824.0,558.6 824.3,558.6 824.6,558.6 824.9,558.6 825.2,558.5 825.5,558.5 825.8,558.5 826.0,558.5 826.6,558.5 827.2,558.4 827.8,558.4 828.4,558.3 829.0,558.3 829.6,558.3 830.1,558.2 830.7,558.2 831.3,558.2 831.9,558.1 832.5,558.1 833.1,558.1 833.6,558.0 834.2,558.0 834.8,558.0 835.4,557.9 836.0,557.9 836.6,557.9 837.1,557.8 837.7,557.8 838.3,557.8 838.9,557.7 839.5,557.7 840.1,557.7 840.6,557.7 841.2,557.6 841.8,557.6 842.4,557.6 843.0,557.5 843.6,557.5 844.1,557.5 844.7,557.4 845.3,557.4 845.9,557.4 846.5,557.4 847.1,557.3 847.6,557.3 848.2,557.3 848.8,557.3 849.4,557.2 850.0,557.2 850.6,557.2 851.1,557.1 851.7,557.1 852.3,557.1 852.9,557.1 853.5,557.1 854.1,557.0 854.6,557.0 855.2,557.0 855.8,557.0 856.4,556.9 857.0,556.9 857.6,556.9 858.2,556.9 858.7,556.9 859.3,556.8 859.9,556.8 860.5,556.8 861.1,556.8 861.7,556.8 862.2,556.7 862.8,556.7 863.4,556.7 864.0,556.7 864.6,556.7 865.2,556.7 865.7,556.6 866.3,556.6 866.9,556.6 867.5,556.6 868.1,556.6 868.7,556.6 869.2,556.5 869.8,556.5 870.4,556.5 871.0,556.5 871.6,556.5 872.2,556.5 872.7,556.5 873.3,556.4 873.9,556.4 874.5,556.4 875.1,556.4 875.7,556.4 876.2,556.4 876.8,556.4 877.4,556.4 878.0,556.4 878.6,556.4 879.2,556.4 879.7,556.4 880.3,556.4 880.9,556.4 881.5,556.4 882.1,556.4 882.7,556.4 883.3,556.4 883.8,556.4 884.4,556.4 885.0,556.4 885.6,556.4 886.2,556.4 886.8,556.4 887.3,556.4 887.9,556.4 888.5,556.4 889.1,556.4 889.7,556.4 890.3,556.4 890.8,556.4 891.4,556.4 892.0,556.4 892.6,556.4 893.2,556.4 893.8,556.5 894.3,556.5 894.9,556.5 895.5,556.5 896.1,556.5 896.7,556.5 897.3,556.5 897.8,556.5 898.4,556.5 899.0,556.5 899.6,556.5 900.2,556.5 900.8,556.5 901.3,556.5 901.9,556.5 902.5,556.5 903.1,556.5 903.7,556.5 904.3,556.5 904.8,556.5 905.4,556.5 906.0,556.6 906.6,556.6 907.2,556.6 907.8,556.6 908.3,556.6 908.9,556.6 909.5,556.6 910.1,556.6 910.7,556.6 911.3,556.6 911.9,556.6 912.4,556.6 913.0,556.6 913.6,556.6 914.2,556.6 914.8,556.7 915.4,556.7 915.9,556.7 916.5,556.7 917.1,556.7 917.7,556.7 918.3,556.7 918.9,556.7 919.4,556.7 920.0,556.7 920.6,556.7 921.2,556.7 921.8,556.7 922.4,556.7 922.9,556.7 923.5,556.7 924.1,556.8 924.7,556.8 925.3,556.8 925.9,556.8 926.4,556.8 927.0,556.8 927.6,556.8 928.2,556.8 928.8,556.8 929.4,556.8 929.9,556.8 930.5,556.8 931.1,556.8 931.7,556.8 932.3,556.9 932.9,556.9 933.4,556.9 934.0,556.9 934.6,556.9 935.2,556.9 935.8,556.9 936.4,556.9 937.0,556.9 937.5,556.9 938.1,556.9 938.7,556.9 939.3,556.9 939.9,556.9 940.5,557.0 941.0,557.0 941.6,557.0 942.2,557.0 942.8,557.0 943.4,557.0 944.0,557.0 944.5,557.0 945.1,557.0 945.7,557.0 946.3,557.0 946.9,557.0 947.5,557.0 948.0,557.0 948.6,557.1 949.2,557.1 949.8,557.1 950.4,557.1 951.0,557.1 951.5,557.1 952.1,557.1 952.7,557.1 953.3,557.1 953.9,557.1 954.5,557.1 955.0,557.1 955.6,557.1 956.2,557.1 956.8,557.2 957.4,557.2 958.0,557.2 958.5,557.2 959.1,557.2 959.7,557.2 960.3,557.2 960.9,557.2 961.5,557.2 962.1,557.2 962.6,557.2 963.2,557.2 963.8,557.2 964.4,557.2 965.0,557.3 965.6,557.3 966.1,557.3 966.7,557.3 967.3,557.3 967.9,557.3 968.5,557.3 969.1,557.3 969.6,557.3 970.2,557.3 970.8,557.3 971.4,557.3 972.0,557.3 972.6,557.3 973.1,557.4 973.7,557.4 974.3,557.4 974.9,557.4 975.5,557.4 976.1,557.4 976.6,557.4 977.2,557.4 977.8,557.4 978.4,557.4 979.0,557.4 979.6,557.4 980.1,557.4 980.7,557.4 981.3,557.4 981.9,557.5 982.5,557.5 983.1,557.5 983.6,557.5 984.2,557.5 984.8,557.5 985.4,557.5 986.0,557.5 986.6,557.5 987.1,557.5 987.7,557.5 988.3,557.5 988.9,557.5 989.5,557.5 993.0,557.6 996.5,557.6 1000.0,557.7 1003.5,557.7 1007.0,557.7 1010.5,557.8 1014.0,557.8 1017.5,557.8 1021.0,557.9 1024.5,557.9 1028.0,558.0 1031.5,558.0 1035.0,558.0 1038.5,558.1 1042.0,558.1 1045.5,558.1 1049.0,558.2 1052.5,558.2 1056.0,558.3 1059.5,558.3 1063.0,558.3 1066.5,558.4 1070.0,558.4 1073.5,558.4 1077.0,558.5 1080.5,558.5 1084.0,558.5 1087.5,558.5 1091.0,558.6 1094.6,558.6 1098.1,558.6 1101.6,558.6 1105.1,558.6 1108.6,558.7 1112.1,558.7 1115.6,558.7 1119.1,558.7 1122.6,558.7 1126.1,558.7 1129.6,558.7 1133.1,558.8 1136.6,558.8 1140.1,558.8 1143.6,558.8 1147.1,558.8 1150.6,558.8 1154.1,558.8 1157.6,558.8 1161.1,558.8 1164.6,558.8 1168.1,558.8 1171.6,558.8 1175.1,558.8 1178.6,558.9 1182.1,558.9 1185.6,558.9 1189.1,558.9 1192.6,558.9 1196.1,558.9 1199.6,558.9 1203.1,558.9 1206.6,558.9 1210.1,558.9 1213.6,558.9 1217.1,558.9 1220.6,558.9 1224.1,558.9 1227.6,558.9 1231.1,558.9 1234.6,558.9 1238.1,558.9 1241.6,558.9 1245.1,558.9 1248.6,558.9 1252.1,559.0 1255.7,559.0 1259.2,559.0 1262.7,559.0 1266.2,559.0 1269.7,559.0 1273.2,559.0 1276.7,559.0 1280.2,559.0 1283.7,559.0 1287.2,559.0 1290.7,559.0 1294.2,559.0 1297.7,559.0 1301.2,559.0 1304.7,559.0 1308.2,559.0 1311.7,559.0 1315.2,559.0 1318.7,559.0 1322.2,559.0 1325.7,559.0 1329.2,559.0 1332.7,559.0 1336.2,559.0 1339.7,559.0 1343.2,559.0 1346.7,559.0 1350.2,559.0 1353.7,559.0 1357.2,559.0 1360.7,559.0 1364.2,559.1 1367.7,559.1 1371.2,559.1 1374.7,559.1 1378.2,559.1 1381.7,559.1 1385.2,559.1 1386.4,559.1" fill="none" stroke="#0000ff" stroke-width="2.7" stroke-linejoin="round" stroke-dasharray="9.80 9.80"/>
<polyline points="802.7,560.0 803.4,559.3 804.2,558.6 804.9,557.9 805.6,557.2 806.3,556.6 807.0,555.9 807.8,555.2 808.5,554.5 809.2,553.8 809.9,553.1 810.6,552.3 811.3,551.6 812.0,550.9 812.7,550.2 813.4,549.5 814.1,548.7 814.8,548.0 815.4,547.3 816.1,546.5 816.8,545.8 817.5,545.1 818.1,544.3 818.8,543.6 819.5,542.8 820.1,542.1 820.8,541.3 821.4,540.6 822.1,539.8 822.7,539.0 823.4,538.3 824.1,537.5 824.7,536.8 825.4,536.0 826.0,535.3 826.7,534.5 827.4,533.8 828.0,533.0 828.7,532.3 829.3,531.5 830.0,530.8 830.7,530.0 831.3,529.3 832.0,528.5 832.7,527.8 833.4,527.1 834.0,526.3 834.7,525.6 835.4,524.8 836.1,524.1 836.7,523.4 837.4,522.6 838.1,521.9 838.8,521.2 839.5,520.4 840.2,519.7 840.8,519.0 841.5,518.3 842.2,517.5 842.9,516.8 843.6,516.1 844.3,515.4 845.0,514.7 845.7,513.9 846.4,513.2 847.1,512.5 847.8,511.8 848.5,511.1 849.2,510.4 849.9,509.7 850.7,509.0 851.4,508.3 852.1,507.6 852.8,506.9 853.5,506.2 854.3,505.5 855.0,504.8 855.7,504.1 856.4,503.5 857.2,502.8 858.6,501.4 860.9,499.5 863.2,497.6 865.6,495.8 868.1,494.1 870.6,492.4 873.2,490.9 875.8,489.4 878.5,488.1 881.2,486.8 884.0,485.7 886.8,484.6 889.6,483.7 892.5,482.8 895.4,482.0 898.3,481.3 901.2,480.6 904.2,480.0 907.1,479.5 910.1,479.1 913.1,478.7 916.0,478.4 919.0,478.1 922.0,477.9 925.0,477.7 928.0,477.6 931.0,477.4 934.0,477.3 937.0,477.2 940.0,477.1 943.0,477.0 946.0,476.9 949.0,476.8 952.0,476.7 955.0,476.7 958.0,476.6 961.0,476.5 964.0,476.5 967.0,476.4 970.0,476.3 973.0,476.3 976.0,476.2 979.0,476.2 982.0,476.1 985.0,476.1 988.0,476.1 991.0,476.0 994.0,476.0 997.0,476.0 1000.0,475.9 1003.0,475.9 1006.1,475.9 1009.1,475.9 1012.1,475.8 1015.1,475.8 1018.1,475.8 1021.1,475.8 1024.1,475.8 1027.1,475.7 1030.1,475.7 1033.1,475.7 1036.1,475.6 1039.1,475.6 1042.1,475.5 1045.1,475.5 1048.1,475.4 1051.1,475.4 1054.1,475.3 1057.1,475.3 1060.1,475.2 1063.1,475.2 1066.1,475.1 1069.1,475.1 1072.1,475.0 1075.1,475.0 1078.1,474.9 1081.1,474.9 1084.1,474.8 1087.1,474.8 1090.1,474.7 1093.1,474.7 1096.1,474.6 1099.1,474.6 1102.1,474.6 1105.1,474.5 1108.1,474.5 1111.1,474.5 1114.1,474.5 1117.1,474.4 1120.1,474.4 1123.1,474.4 1126.1,474.3 1129.1,474.3 1132.1,474.3 1135.1,474.2 1138.1,474.2 1141.1,474.2 1144.1,474.2 1147.1,474.1 1150.1,474.1 1153.1,474.1 1156.1,474.0 1159.1,474.0 1162.1,474.0 1165.1,474.0 1168.2,473.9 1171.2,473.9 1174.2,473.9 1177.2,473.8 1180.2,473.8 1183.2,473.8 1186.2,473.8 1189.2,473.7 1192.2,473.7 1195.2,473.7 1198.2,473.7 1201.2,473.6 1204.2,473.6 1207.2,473.6 1210.2,473.5 1213.2,473.5 1216.2,473.5 1219.2,473.5 1222.2,473.4 1225.2,473.4 1228.2,473.4 1231.2,473.4 1234.2,473.4 1237.2,473.3 1240.2,473.3 1243.2,473.3 1246.2,473.3 1249.2,473.2 1252.2,473.2 1255.2,473.2 1258.2,473.2 1261.2,473.2 1264.2,473.1 1267.2,473.1 1270.2,473.1 1273.2,473.1 1276.2,473.1 1279.2,473.0 1282.2,473.0 1285.2,473.0 1288.2,473.0 1291.2,473.0 1294.2,473.0 1297.2,472.9 1300.2,472.9 1303.2,472.9 1306.2,472.9 1309.2,472.9 1312.2,472.9 1315.3,472.9 1318.3,472.8 1321.3,472.8 1324.3,472.8 1327.3,472.8 1330.3,472.8 1333.3,472.8 1336.3,472.8 1339.3,472.8 1342.3,472.8 1345.3,472.8 1348.3,472.7 1351.3,472.7 1354.3,472.7 1357.3,472.7 1360.3,472.7 1363.3,472.7 1366.3,472.7 1369.3,472.7 1372.3,472.7 1375.3,472.7 1378.3,472.7 1381.3,472.7 1384.3,472.7 1386.3,472.7" fill="none" stroke="#ff0000" stroke-width="2.7" stroke-linejoin="round" stroke-dasharray="2.45 7.35"/>
<polyline points="802.7,560.0 803.3,559.2 803.9,558.4 804.5,557.6 805.1,556.8 805.6,555.9 806.2,555.1 806.8,554.3 807.4,553.5 807.9,552.7 808.5,551.8 809.0,551.0 809.6,550.2 810.2,549.3 810.7,548.5 811.3,547.7 811.8,546.9 812.4,546.0 813.0,545.2 813.5,544.4 814.1,543.6 814.7,542.8 815.3,542.0 815.9,541.2 816.5,540.4 817.1,539.6 817.7,538.8 818.3,538.0 818.9,537.2 819.6,536.4 820.2,535.6 820.8,534.8 821.4,534.1 822.1,533.3 822.7,532.5 823.4,531.8 824.0,531.0 824.6,530.2 825.3,529.5 825.9,528.7 826.6,527.9 827.2,527.2 827.9,526.4 828.6,525.7 829.2,524.9 829.9,524.2 830.5,523.4 831.2,522.7 831.9,521.9 832.5,521.2 833.2,520.4 833.9,519.7 834.5,518.9 835.2,518.2 835.9,517.5 836.6,516.7 837.3,516.0 837.9,515.3 838.6,514.5 839.3,513.8 840.0,513.1 840.7,512.3 841.4,511.6 842.1,510.9 842.8,510.2 843.4,509.5 844.1,508.7 844.8,508.0 845.5,507.3 846.2,506.6 846.9,505.9 847.6,505.2 848.3,504.5 849.0,503.7 849.8,503.0 850.5,502.3 851.2,501.6 851.9,500.9 852.6,500.2 853.3,499.5 854.7,498.0 856.8,495.9 858.9,493.8 861.1,491.8 863.4,489.9 865.8,488.0 868.2,486.3 870.8,484.7 873.4,483.2 876.0,481.9 878.8,480.6 881.5,479.5 884.4,478.5 887.2,477.7 890.2,477.0 893.1,476.4 896.1,476.0 899.0,475.7 902.0,475.4 905.0,475.1 908.0,475.0 911.0,474.8 914.0,474.6 917.0,474.5 920.0,474.4 923.0,474.3 926.0,474.3 929.0,474.2 932.0,474.2 935.0,474.2 938.0,474.2 941.0,474.2 944.0,474.1 947.0,474.1 950.0,474.1 953.0,474.1 956.0,474.1 959.0,474.1 962.0,474.1 965.0,474.1 968.0,474.1 971.0,474.1 974.0,474.1 977.0,474.1 980.0,474.1 983.0,474.1 986.0,474.1 989.1,474.1 992.1,474.1 995.1,474.1 998.1,474.1 1001.1,474.1 1004.1,474.0 1007.1,474.0 1010.1,474.0 1013.1,474.0 1016.1,474.0 1019.1,474.0 1022.1,474.0 1025.1,474.0 1028.1,474.0 1031.1,474.0 1034.1,474.0 1037.1,474.0 1040.1,474.0 1043.1,474.0 1046.1,474.0 1049.1,473.9 1052.1,473.9 1055.1,473.9 1058.1,473.9 1061.1,473.9 1064.1,473.9 1067.1,473.9 1070.1,473.9 1073.1,473.9 1076.1,473.9 1079.1,473.9 1082.1,473.8 1085.1,473.8 1088.1,473.8 1091.1,473.8 1094.1,473.8 1097.1,473.8 1100.1,473.8 1103.1,473.8 1106.1,473.8 1109.1,473.7 1112.1,473.7 1115.1,473.7 1118.1,473.7 1121.1,473.7 1124.1,473.7 1127.1,473.7 1130.1,473.7 1133.1,473.7 1136.1,473.6 1139.1,473.6 1142.1,473.6 1145.2,473.6 1148.2,473.6 1151.2,473.6 1154.2,473.6 1157.2,473.6 1160.2,473.5 1163.2,473.5 1166.2,473.5 1169.2,473.5 1172.2,473.5 1175.2,473.5 1178.2,473.5 1181.2,473.4 1184.2,473.4 1187.2,473.4 1190.2,473.4 1193.2,473.4 1196.2,473.4 1199.2,473.4 1202.2,473.3 1205.2,473.3 1208.2,473.3 1211.2,473.3 1214.2,473.3 1217.2,473.3 1220.2,473.3 1223.2,473.2 1226.2,473.2 1229.2,473.2 1232.2,473.2 1235.2,473.2 1238.2,473.2 1241.2,473.1 1244.2,473.1 1247.2,473.1 1250.2,473.1 1253.2,473.1 1256.2,473.1 1259.2,473.0 1262.2,473.0 1265.2,473.0 1268.2,473.0 1271.2,473.0 1274.2,473.0 1277.2,472.9 1280.2,472.9 1283.2,472.9 1286.2,472.9 1289.2,472.9 1292.2,472.8 1295.2,472.8 1298.2,472.8 1301.2,472.8 1304.2,472.8 1307.3,472.7 1310.3,472.7 1313.3,472.7 1316.3,472.7 1319.3,472.7 1322.3,472.6 1325.3,472.6 1328.3,472.6 1331.3,472.6 1334.3,472.6 1337.3,472.5 1340.3,472.5 1343.3,472.5 1346.3,472.5 1349.3,472.5 1352.3,472.4 1355.3,472.4 1358.3,472.4 1361.3,472.4 1364.3,472.4 1367.3,472.3 1370.3,472.3 1373.3,472.3 1376.3,472.3 1379.3,472.3 1382.3,472.2 1385.3,472.2 1386.3,472.2" fill="none" stroke="#000000" stroke-width="2.6" stroke-linejoin="round"/>
</g>
<rect x="1053.7" y="556.8" width="332.7" height="3.4" fill="#fff" opacity="0.42"/>
<text class="pl" x="829.9" y="118.3" textLength="26.2" lengthAdjust="spacingAndGlyphs">B</text>
<text class="pt" x="897.6" y="120.3" textLength="202" lengthAdjust="spacingAndGlyphs">Cultured-c</text>
<text class="lb" x="865.6" y="461.3" fill="#000">Sum</text>
<text class="lb" x="895.3" y="508.8" fill="#ff0000" textLength="54.4" lengthAdjust="spacingAndGlyphs">CO<tspan class="sub" dy="5.6">2</tspan></text>
<path d="M123.4,653.6V1126.3" fill="none" stroke="#d0d0d0" stroke-width="2.2"/>
<path d="M122.4,1125.3H707.9" fill="none" stroke="#b6b6b6" stroke-width="2.1"/>
<path d="M115.9,1125.3H123.4M115.9,968.4H123.4M115.9,811.5H123.4M115.9,654.6H123.4M123.4,1125.3V1132.8M240.1,1125.3V1132.8M356.8,1125.3V1132.8M473.5,1125.3V1132.8M590.2,1125.3V1132.8M706.9,1125.3V1132.8" fill="none" stroke="#ababab" stroke-width="2.1"/>
<g class="tk" text-anchor="end">
<text x="110.5" y="1135.7" textLength="36.5" lengthAdjust="spacingAndGlyphs">0.0</text>
<text x="110.5" y="978.8" textLength="36.5" lengthAdjust="spacingAndGlyphs">0.2</text>
<text x="110.5" y="821.9" textLength="36.5" lengthAdjust="spacingAndGlyphs">0.4</text>
<text x="110.5" y="665.0" textLength="36.5" lengthAdjust="spacingAndGlyphs">0.6</text>
</g><g class="tk" text-anchor="middle">
<text x="123.4" y="1158.3" textLength="14.6" lengthAdjust="spacingAndGlyphs">0</text>
<text x="240.1" y="1158.3" textLength="43.8" lengthAdjust="spacingAndGlyphs">200</text>
<text x="356.8" y="1158.3" textLength="43.8" lengthAdjust="spacingAndGlyphs">400</text>
<text x="473.5" y="1158.3" textLength="43.8" lengthAdjust="spacingAndGlyphs">600</text>
<text x="590.2" y="1158.3" textLength="43.8" lengthAdjust="spacingAndGlyphs">800</text>
<text x="706.9" y="1158.3" textLength="58.4" lengthAdjust="spacingAndGlyphs">1000</text>
</g>
<text class="at" text-anchor="middle" transform="translate(54.0,889.9) rotate(-90)" textLength="164.5" lengthAdjust="spacingAndGlyphs">Warming, K</text>
<text class="at" text-anchor="middle" x="415.1" y="1196.1">Year</text>
<clipPath id="cpC"><rect x="123.4" y="634.6" width="583.5" height="492.0"/></clipPath>
<g clip-path="url(#cpC)">
<polyline points="123.4,1125.3 123.7,1125.3 124.0,1125.3 124.3,1125.3 124.6,1122.4 124.9,1115.3 125.2,1108.5 125.4,1101.9 125.7,1095.5 126.0,1089.3 126.3,1083.3 126.6,1077.5 126.9,1071.9 127.2,1066.5 127.5,1061.3 127.8,1056.2 128.1,1051.3 128.4,1046.5 128.7,1041.9 128.9,1037.5 129.2,1033.1 129.5,1028.9 129.8,1024.9 130.1,1021.0 130.4,1017.1 130.7,1013.4 131.0,1009.8 131.3,1006.4 131.6,1003.0 131.9,999.7 132.2,996.5 132.4,993.4 132.7,990.4 133.0,987.5 133.3,984.7 133.6,981.9 133.9,979.3 134.2,976.7 134.5,974.1 134.8,971.7 135.1,969.3 135.4,967.0 135.7,964.7 135.9,962.5 136.2,960.4 136.5,958.3 136.8,956.3 137.1,954.3 137.4,952.4 137.7,950.5 138.0,948.6 138.3,946.9 138.6,945.1 138.9,943.4 139.2,941.8 139.4,940.2 139.7,938.6 140.0,937.0 140.3,935.5 140.6,934.1 140.9,932.6 141.2,931.2 141.5,929.9 141.8,928.5 142.1,927.2 142.4,925.9 142.7,924.7 142.9,923.5 143.2,922.3 143.5,921.1 143.8,919.9 144.1,918.8 144.4,917.7 144.7,916.6 145.0,915.6 145.3,914.5 145.6,913.5 145.9,912.5 146.2,911.5 146.4,910.6 146.7,909.6 147.3,907.8 147.9,906.1 148.5,904.4 149.1,902.7 149.7,901.1 150.2,899.6 150.8,898.1 151.4,896.7 152.0,895.3 152.6,893.9 153.2,892.6 153.7,891.4 154.3,890.1 154.9,888.9 155.5,887.8 156.1,886.6 156.7,885.5 157.2,884.4 157.8,883.4 158.4,882.4 159.0,881.4 159.6,880.4 160.2,879.4 160.7,878.5 161.3,877.6 161.9,876.7 162.5,875.8 163.1,874.9 163.7,874.1 164.2,873.3 164.8,872.5 165.4,871.7 166.0,870.9 166.6,870.1 167.2,869.4 167.7,868.6 168.3,867.9 168.9,867.2 169.5,866.5 170.1,865.8 170.7,865.1 171.2,864.5 171.8,863.8 172.4,863.2 173.0,862.5 173.6,861.9 174.2,861.3 174.7,860.7 175.3,860.1 175.9,859.5 176.5,858.9 177.1,858.3 177.7,857.8 178.2,857.2 178.8,856.7 179.4,856.1 180.0,855.6 180.6,855.0 181.2,854.5 181.8,854.0 182.3,853.5 182.9,853.0 183.5,852.5 184.1,852.0 184.7,851.5 185.3,851.0 185.8,850.5 186.1,850.3 186.7,851.9 187.3,853.1 187.9,854.1 188.4,855.0 189.0,855.9 189.6,856.9 190.2,858.0 190.8,859.1 191.4,860.4 191.9,861.7 192.5,863.2 193.1,864.8 193.7,866.5 194.3,868.4 194.9,870.2 195.4,872.2 196.0,874.2 196.6,876.3 197.2,878.5 197.8,880.7 198.4,882.9 198.9,885.1 199.5,887.4 200.1,889.7 200.7,892.0 201.3,894.3 201.9,896.6 202.4,898.9 203.0,901.2 203.6,903.5 204.2,905.7 204.8,908.0 205.4,910.2 205.9,912.5 206.5,914.7 207.1,916.9 207.7,919.0 208.3,921.2 208.9,923.3 209.4,925.4 210.0,927.5 210.6,929.5 211.2,931.6 211.8,933.6 212.4,935.5 212.9,937.5 213.5,939.4 214.1,941.3 214.7,943.2 215.3,945.1 215.9,946.9 216.4,948.7 217.0,950.5 217.6,952.3 218.2,954.0 218.8,955.7 219.4,957.4 219.9,959.1 220.5,960.7 221.1,962.3 221.7,963.9 222.3,965.5 222.9,967.1 223.4,968.6 224.0,970.1 224.6,971.6 225.2,973.1 225.8,974.5 226.4,975.9 226.9,977.3 227.5,978.7 228.1,980.1 228.7,981.4 229.3,982.8 229.9,984.1 230.4,985.4 231.0,986.6 231.6,987.9 232.2,989.1 232.8,990.4 233.4,991.6 233.9,992.8 234.5,993.9 235.1,995.1 235.7,996.2 236.3,997.3 236.9,998.4 237.4,999.5 238.0,1000.6 238.6,1001.7 239.2,1002.7 239.8,1003.8 240.4,1004.8 240.9,1005.8 241.5,1006.8 242.1,1007.7 242.7,1008.7 243.3,1009.7 243.9,1010.6 244.4,1011.5 245.0,1012.4 245.6,1013.3 246.2,1014.2 246.8,1015.1 247.4,1015.9 248.0,1016.8 248.5,1017.6 249.1,1018.5 249.7,1019.3 250.3,1020.1 250.9,1020.9 251.5,1021.7 252.0,1022.4 252.6,1023.2 253.2,1024.0 253.8,1024.7 254.4,1025.4 255.0,1026.2 255.5,1026.9 256.1,1027.6 256.7,1028.3 257.3,1029.0 257.9,1029.7 258.5,1030.3 259.0,1031.0 259.6,1031.6 260.2,1032.3 260.8,1032.9 261.4,1033.5 262.0,1034.2 262.5,1034.8 263.1,1035.4 263.7,1036.0 264.3,1036.6 264.9,1037.1 265.5,1037.7 266.0,1038.3 266.6,1038.8 267.2,1039.4 267.8,1039.9 268.4,1040.5 269.0,1041.0 269.5,1041.5 270.1,1042.1 270.7,1042.6 271.3,1043.1 271.9,1043.6 272.5,1044.1 273.0,1044.6 273.6,1045.0 274.2,1045.5 274.8,1046.0 275.4,1046.5 276.0,1046.9 276.5,1047.4 277.1,1047.8 277.7,1048.3 278.3,1048.7 278.9,1049.1 279.5,1049.6 280.0,1050.0 280.6,1050.4 281.2,1050.8 281.8,1051.2 282.4,1051.6 283.0,1052.0 283.5,1052.4 284.1,1052.8 284.7,1053.2 285.3,1053.6 285.9,1053.9 286.5,1054.3 287.0,1054.7 287.6,1055.0 288.2,1055.4 288.8,1055.8 289.4,1056.1 290.0,1056.5 290.5,1056.8 291.1,1057.1 291.7,1057.5 292.3,1057.8 292.9,1058.1 293.5,1058.5 294.0,1058.8 294.6,1059.1 295.2,1059.4 295.8,1059.7 296.4,1060.0 297.0,1060.3 297.5,1060.6 298.1,1060.9 298.7,1061.2 299.3,1061.5 299.9,1061.8 300.5,1062.1 301.0,1062.4 301.6,1062.7 302.2,1062.9 302.8,1063.2 303.4,1063.5 304.0,1063.7 304.6,1064.0 305.1,1064.3 305.7,1064.5 306.3,1064.8 306.9,1065.0 307.5,1065.3 308.1,1065.5 308.6,1065.8 309.2,1066.0 309.8,1066.3 310.4,1066.5 313.9,1067.9 317.4,1069.2 320.9,1070.5 324.4,1071.6 327.9,1072.8 331.4,1073.8 334.9,1074.8 338.4,1075.8 341.9,1076.7 345.4,1077.5 348.9,1078.4 352.4,1079.2 355.9,1079.9 359.4,1080.6 362.9,1081.3 366.4,1082.0 369.9,1082.6 373.4,1083.2 376.9,1083.8 380.4,1084.4 383.9,1084.9 387.4,1085.5 390.9,1086.0 394.4,1086.5 397.9,1086.9 401.4,1087.4 404.9,1087.8 408.4,1088.3 411.9,1088.7 415.4,1089.1 418.9,1089.5 422.4,1089.9 425.9,1090.2 429.4,1090.6 432.9,1090.9 436.4,1091.3 439.9,1091.6 443.4,1091.9 446.9,1092.2 450.4,1092.5 453.9,1092.8 457.4,1093.1 460.9,1093.4 464.4,1093.6 467.9,1093.9 471.4,1094.2 474.9,1094.4 478.4,1094.7 481.9,1094.9 485.4,1095.1 488.9,1095.4 492.4,1095.6 495.9,1095.8 499.4,1096.0 502.9,1096.2 506.4,1096.4 509.9,1096.6 513.4,1096.8 516.9,1097.0 520.4,1097.2 523.9,1097.4 527.4,1097.6 530.9,1097.8 534.4,1098.0 538.0,1098.1 541.5,1098.3 545.0,1098.5 548.5,1098.6 552.0,1098.8 555.5,1099.0 559.0,1099.1 562.5,1099.3 566.0,1099.5 569.5,1099.6 573.0,1099.8 576.5,1099.9 580.0,1100.1 583.5,1100.2 587.0,1100.4 590.5,1100.5 594.0,1100.7 597.5,1100.8 601.0,1101.0 604.5,1101.1 608.0,1101.3 611.5,1101.4 615.0,1101.5 618.5,1101.7 622.0,1101.8 625.5,1102.0 629.0,1102.1 632.5,1102.3 636.0,1102.4 639.5,1102.6 643.0,1102.7 646.5,1102.8 650.0,1103.0 653.5,1103.1 657.0,1103.3 660.5,1103.4 664.0,1103.6 667.5,1103.7 671.0,1103.9 674.5,1104.0 678.0,1104.1 681.5,1104.3 685.0,1104.4 688.5,1104.6 692.0,1104.7 695.5,1104.9 699.0,1105.0 702.5,1105.2 706.0,1105.3" fill="none" stroke="#f28e3a" stroke-width="2.35" stroke-linejoin="round" stroke-dasharray="2.32 6.96"/>
<polyline points="123.4,1125.3 123.7,1125.3 124.0,1125.3 124.3,1125.3 124.6,1121.1 124.9,1110.9 125.2,1100.9 125.4,1091.3 125.7,1081.9 126.0,1072.9 126.3,1064.1 126.6,1055.6 126.9,1047.3 127.2,1039.3 127.5,1031.5 127.8,1024.0 128.1,1016.7 128.4,1009.6 128.7,1002.7 128.9,996.0 129.2,989.5 129.5,983.1 129.8,977.0 130.1,971.0 130.4,965.2 130.7,959.6 131.0,954.1 131.3,948.8 131.6,943.6 131.9,938.6 132.2,933.7 132.4,929.0 132.7,924.3 133.0,919.8 133.3,915.4 133.6,911.2 133.9,907.0 134.2,903.0 134.5,899.0 134.8,895.2 135.1,891.5 135.4,887.8 135.7,884.3 135.9,880.8 136.2,877.5 136.5,874.2 136.8,871.0 137.1,867.9 137.4,864.8 137.7,861.9 138.0,859.0 138.3,856.1 138.6,853.4 138.9,850.7 139.2,848.1 139.4,845.5 139.7,843.0 140.0,840.5 140.3,838.1 140.6,835.8 140.9,833.5 141.2,831.3 141.5,829.1 141.8,827.0 142.1,824.9 142.4,822.8 142.7,820.9 142.9,818.9 143.2,817.0 143.5,815.1 143.8,813.3 144.1,811.5 144.4,809.8 144.7,808.0 145.0,806.4 145.3,804.7 145.6,803.1 145.9,801.5 146.2,800.0 146.4,798.4 146.7,797.0 147.3,794.1 147.9,791.3 148.5,788.6 149.1,786.0 149.7,783.5 150.2,781.1 150.8,778.8 151.4,776.6 152.0,774.4 152.6,772.3 153.2,770.3 153.7,768.3 154.3,766.4 154.9,764.6 155.5,762.8 156.1,761.1 156.7,759.4 157.2,757.8 157.8,756.2 158.4,754.6 159.0,753.1 159.6,751.6 160.2,750.2 160.7,748.8 161.3,747.4 161.9,746.1 162.5,744.8 163.1,743.5 163.7,742.3 164.2,741.1 164.8,739.9 165.4,738.7 166.0,737.5 166.6,736.4 167.2,735.3 167.7,734.2 168.3,733.2 168.9,732.1 169.5,731.1 170.1,730.1 170.7,729.1 171.2,728.1 171.8,727.1 172.4,726.2 173.0,725.2 173.6,724.3 174.2,723.4 174.7,722.5 175.3,721.6 175.9,720.7 176.5,719.8 177.1,719.0 177.7,718.1 178.2,717.3 178.8,716.4 179.4,715.6 180.0,714.8 180.6,714.0 181.2,713.1 181.8,712.3 182.3,711.6 182.9,710.8 183.5,710.0 184.1,709.2 184.7,708.4 185.0,708.1 185.5,707.4 186.1,707.5 186.7,708.1 187.3,709.1 187.9,710.4 188.5,712.0 189.0,713.7 189.6,715.7 190.2,717.7 190.8,719.9 191.4,722.1 192.0,724.5 192.5,726.9 193.1,729.4 193.7,732.0 194.3,734.7 194.9,737.5 195.5,740.3 196.0,743.1 196.6,746.1 197.2,749.0 197.8,752.1 198.4,755.2 199.0,758.3 199.5,761.4 200.1,764.6 200.7,767.8 201.3,771.1 201.9,774.3 202.5,777.6 203.0,780.9 203.6,784.2 204.2,787.5 204.8,790.8 205.4,794.2 206.0,797.5 206.5,800.8 207.1,804.1 207.7,807.3 208.3,810.6 208.9,813.8 209.5,817.1 210.0,820.3 210.6,823.4 211.2,826.6 211.8,829.7 212.4,832.8 213.0,835.9 213.5,838.9 214.1,841.9 214.7,844.9 215.3,847.9 215.9,850.8 216.5,853.7 217.0,856.5 217.6,859.3 218.2,862.1 218.8,864.8 219.4,867.5 220.0,870.2 220.5,872.8 221.1,875.4 221.7,877.9 222.3,880.4 222.9,882.9 223.5,885.4 224.0,887.8 224.6,890.1 225.2,892.5 225.8,894.8 226.4,897.1 227.0,899.3 227.5,901.5 228.1,903.7 228.7,905.8 229.3,907.9 229.9,910.0 230.5,912.0 231.0,914.0 231.6,916.0 232.2,917.9 232.8,919.9 233.4,921.8 234.0,923.6 234.6,925.4 235.1,927.2 235.7,929.0 236.3,930.8 236.9,932.5 237.5,934.2 238.1,935.9 238.6,937.5 239.2,939.1 239.8,940.7 240.4,942.3 241.0,943.8 241.6,945.4 242.1,946.9 242.7,948.4 243.3,949.8 243.9,951.2 244.5,952.7 245.1,954.1 245.6,955.4 246.2,956.8 246.8,958.1 247.4,959.5 248.0,960.8 248.6,962.0 249.1,963.3 249.7,964.5 250.3,965.8 250.9,967.0 251.5,968.2 252.1,969.4 252.6,970.5 253.2,971.7 253.8,972.8 254.4,973.9 255.0,975.0 255.6,976.1 256.1,977.2 256.7,978.2 257.3,979.3 257.9,980.3 258.5,981.3 259.1,982.3 259.6,983.3 260.2,984.3 260.8,985.3 261.4,986.2 262.0,987.2 262.6,988.1 263.1,989.0 263.7,989.9 264.3,990.8 264.9,991.7 265.5,992.6 266.1,993.5 266.6,994.3 267.2,995.2 267.8,996.0 268.4,996.8 269.0,997.7 269.6,998.5 270.1,999.3 270.7,1000.1 271.3,1000.8 271.9,1001.6 272.5,1002.4 273.1,1003.1 273.6,1003.9 274.2,1004.6 274.8,1005.3 275.4,1006.1 276.0,1006.8 276.6,1007.5 277.1,1008.2 277.7,1008.9 278.3,1009.6 278.9,1010.2 279.5,1010.9 280.1,1011.6 280.6,1012.2 281.2,1012.9 281.8,1013.5 282.4,1014.1 283.0,1014.8 283.6,1015.4 284.1,1016.0 284.7,1016.6 285.3,1017.2 285.9,1017.8 286.5,1018.4 287.1,1019.0 287.6,1019.6 288.2,1020.1 288.8,1020.7 289.4,1021.3 290.0,1021.8 290.6,1022.4 291.1,1022.9 291.7,1023.5 292.3,1024.0 292.9,1024.5 293.5,1025.0 294.1,1025.6 294.7,1026.1 295.2,1026.6 295.8,1027.1 296.4,1027.6 297.0,1028.1 297.6,1028.6 298.2,1029.1 298.7,1029.5 299.3,1030.0 299.9,1030.5 300.5,1031.0 301.1,1031.4 301.7,1031.9 302.2,1032.3 302.8,1032.8 303.4,1033.2 304.0,1033.7 304.6,1034.1 305.2,1034.5 305.7,1035.0 306.3,1035.4 306.9,1035.8 307.5,1036.2 308.1,1036.6 308.7,1037.1 309.2,1037.5 309.8,1037.9 310.4,1038.3 313.9,1040.6 317.4,1042.8 320.9,1044.9 324.4,1046.8 327.9,1048.7 331.4,1050.5 334.9,1052.2 338.4,1053.8 341.9,1055.4 345.4,1056.8 348.9,1058.2 352.4,1059.5 355.9,1060.8 359.4,1062.0 362.9,1063.2 366.4,1064.3 369.9,1065.3 373.4,1066.3 376.9,1067.3 380.4,1068.2 383.9,1069.1 387.4,1070.0 390.9,1070.8 394.4,1071.6 397.9,1072.3 401.4,1073.1 404.9,1073.8 408.4,1074.4 411.9,1075.1 415.4,1075.7 418.9,1076.3 422.4,1076.9 425.9,1077.5 429.4,1078.0 432.9,1078.6 436.4,1079.1 439.9,1079.6 443.4,1080.1 446.9,1080.6 450.4,1081.1 453.9,1081.5 457.4,1082.0 460.9,1082.4 464.4,1082.9 468.0,1083.3 471.5,1083.7 475.0,1084.1 478.5,1084.5 482.0,1084.9 485.5,1085.3 489.0,1085.7 492.5,1086.0 496.0,1086.4 499.5,1086.7 503.0,1087.1 506.5,1087.5 510.0,1087.8 513.5,1088.1 517.0,1088.5 520.5,1088.8 524.0,1089.1 527.5,1089.4 531.0,1089.8 534.5,1090.1 538.0,1090.4 541.5,1090.7 545.0,1091.0 548.5,1091.3 552.0,1091.6 555.5,1091.9 559.0,1092.1 562.5,1092.4 566.0,1092.7 569.5,1093.0 573.0,1093.2 576.5,1093.5 580.0,1093.8 583.5,1094.0 587.0,1094.3 590.5,1094.5 594.0,1094.8 597.5,1095.0 601.0,1095.2 604.5,1095.5 608.0,1095.7 611.5,1095.9 615.0,1096.1 618.5,1096.3 622.0,1096.6 625.5,1096.8 629.0,1097.0 632.5,1097.2 636.0,1097.4 639.5,1097.6 643.0,1097.7 646.5,1097.9 650.0,1098.1 653.5,1098.3 657.0,1098.4 660.5,1098.6 664.0,1098.8 667.5,1098.9 671.0,1099.1 674.5,1099.2 678.0,1099.3 681.5,1099.5 685.0,1099.6 688.5,1099.7 692.0,1099.9 695.5,1100.0 699.0,1100.1 702.5,1100.2 706.0,1100.3 706.9,1100.3" fill="none" stroke="#c9772f" stroke-width="2.35" stroke-linejoin="round" stroke-dasharray="9.28 9.28"/>
<polyline points="123.4,1125.3 123.7,1125.3 124.0,1125.3 124.3,1125.3 124.6,1122.1 124.9,1114.1 125.2,1106.4 125.4,1098.9 125.7,1091.6 126.0,1084.6 126.3,1077.7 126.6,1071.0 126.9,1064.5 127.2,1058.1 127.5,1051.9 127.8,1045.9 128.1,1040.1 128.4,1034.4 128.7,1028.8 128.9,1023.4 129.2,1018.1 129.5,1012.9 129.8,1007.9 130.1,1002.9 130.4,998.1 130.7,993.4 131.0,988.9 131.3,984.4 131.6,980.0 131.9,975.7 132.2,971.5 132.4,967.4 132.7,963.4 133.0,959.5 133.3,955.6 133.6,951.8 133.9,948.1 134.2,944.5 134.5,940.9 134.8,937.4 135.1,934.0 135.4,930.7 135.7,927.4 135.9,924.1 136.2,920.9 136.5,917.8 136.8,914.7 137.1,911.7 137.4,908.8 137.7,905.8 138.0,903.0 138.3,900.1 138.6,897.4 138.9,894.6 139.2,891.9 139.4,889.3 139.7,886.6 140.0,884.1 140.3,881.5 140.6,879.0 140.9,876.5 141.2,874.1 141.5,871.7 141.8,869.3 142.1,867.0 142.4,864.7 142.7,862.4 142.9,860.2 143.2,857.9 143.5,855.7 143.8,853.6 144.1,851.4 144.4,849.3 144.7,847.2 145.0,845.1 145.3,843.1 145.6,841.1 145.9,839.1 146.2,837.1 146.4,835.1 146.7,833.2 147.3,829.4 147.9,825.7 148.5,822.0 149.1,818.4 149.7,814.9 150.2,811.4 150.8,808.1 151.4,804.7 152.0,801.5 152.6,798.3 153.2,795.1 153.7,792.0 154.3,788.9 154.9,785.9 155.5,783.0 156.1,780.1 156.7,777.2 157.2,774.4 157.8,771.6 158.4,768.9 159.0,766.2 159.6,763.5 160.2,760.9 160.7,758.4 161.3,755.8 161.9,753.3 162.5,750.8 163.1,748.4 163.7,746.0 164.2,743.6 164.8,741.3 165.4,739.0 166.0,736.7 166.6,734.5 167.2,732.3 167.7,730.1 168.3,727.9 168.9,725.8 169.5,723.7 170.1,721.6 170.7,719.6 171.2,717.6 171.8,715.6 172.4,713.6 173.0,711.7 173.6,709.8 174.2,707.9 174.7,706.0 175.3,704.1 175.9,702.3 176.5,700.5 177.1,698.7 177.7,697.0 178.2,695.3 178.8,693.5 179.4,691.9 180.0,690.2 180.6,688.5 181.2,686.9 181.8,685.3 182.3,683.7 182.9,682.1 183.5,680.6 184.1,679.1 184.7,677.5 185.3,676.0 185.8,674.6 186.4,673.1 187.0,671.7 187.6,670.2 188.2,668.8 188.6,667.8 189.2,667.9 189.8,668.0 190.4,668.4 190.9,668.8 191.5,669.5 192.1,670.3 192.7,671.3 193.3,672.4 193.9,673.8 194.4,675.2 195.0,676.8 195.6,678.4 196.2,680.2 196.8,682.1 197.4,684.0 197.9,686.0 198.5,688.0 199.1,690.1 199.7,692.2 200.3,694.3 200.9,696.4 201.4,698.6 202.0,700.8 202.6,702.9 203.2,705.1 203.8,707.3 204.4,709.4 204.9,711.6 205.5,713.8 206.1,715.9 206.7,718.0 207.3,720.2 207.9,722.3 208.4,724.4 209.0,726.4 209.6,728.5 210.2,730.6 210.8,732.6 211.4,734.6 211.9,736.6 212.5,738.6 213.1,740.6 213.7,742.6 214.3,744.5 214.9,746.5 215.4,748.4 216.0,750.3 216.6,752.2 217.2,754.1 217.8,756.0 218.4,757.9 218.9,759.7 219.5,761.6 220.1,763.4 220.7,765.2 221.3,767.0 221.9,768.8 222.4,770.6 223.0,772.3 223.6,774.1 224.2,775.9 224.8,777.6 225.4,779.3 225.9,781.0 226.5,782.7 227.1,784.4 227.7,786.1 228.3,787.8 228.9,789.4 229.4,791.1 230.0,792.7 230.6,794.4 231.2,796.0 231.8,797.6 232.4,799.2 232.9,800.8 233.5,802.4 234.1,803.9 234.7,805.5 235.3,807.1 235.9,808.6 236.4,810.1 237.0,811.6 237.6,813.2 238.2,814.7 238.8,816.1 239.4,817.6 239.9,819.1 240.5,820.6 241.1,822.0 241.7,823.5 242.3,824.9 242.9,826.3 243.4,827.7 244.0,829.1 244.6,830.5 245.2,831.9 245.8,833.3 246.4,834.6 246.9,836.0 247.5,837.3 248.1,838.7 248.7,840.0 249.3,841.3 249.9,842.6 250.5,843.9 251.0,845.2 251.6,846.5 252.2,847.8 252.8,849.0 253.4,850.3 254.0,851.5 254.5,852.8 255.1,854.0 255.7,855.2 256.3,856.4 256.9,857.6 257.5,858.8 258.0,860.0 258.6,861.1 259.2,862.3 259.8,863.4 260.4,864.6 261.0,865.7 261.5,866.9 262.1,868.0 262.7,869.1 263.3,870.2 263.9,871.3 264.5,872.4 265.0,873.4 265.6,874.5 266.2,875.6 266.8,876.6 267.4,877.7 268.0,878.7 268.5,879.7 269.1,880.7 269.7,881.7 270.3,882.7 270.9,883.7 271.5,884.7 272.0,885.7 272.6,886.7 273.2,887.6 273.8,888.6 274.4,889.5 275.0,890.5 275.5,891.4 276.1,892.3 276.7,893.3 277.3,894.2 277.9,895.1 278.5,896.0 279.0,896.9 279.6,897.7 280.2,898.6 280.8,899.5 281.4,900.3 282.0,901.2 282.5,902.1 283.1,902.9 283.7,903.7 284.3,904.6 284.9,905.4 285.5,906.2 286.0,907.0 286.6,907.8 287.2,908.6 287.8,909.4 288.4,910.2 289.0,910.9 289.5,911.7 290.1,912.5 290.7,913.2 291.3,914.0 291.9,914.7 292.5,915.5 293.0,916.2 293.6,916.9 294.2,917.6 294.8,918.3 295.4,919.1 296.0,919.8 296.5,920.5 297.1,921.1 297.7,921.8 298.3,922.5 298.9,923.2 299.5,923.9 300.0,924.5 300.6,925.2 301.2,925.8 301.8,926.5 302.4,927.1 303.0,927.8 303.5,928.4 304.1,929.0 304.7,929.7 305.3,930.3 305.9,930.9 306.5,931.5 307.1,932.1 307.6,932.7 308.2,933.3 308.8,933.9 309.4,934.5 310.0,935.0 310.6,935.6 314.1,939.0 317.6,942.2 321.1,945.2 324.6,948.1 328.1,950.9 331.6,953.5 335.1,956.1 338.6,958.5 342.1,960.8 345.6,963.0 349.1,965.1 352.6,967.1 356.1,969.1 359.6,970.9 363.1,972.7 366.6,974.4 370.1,976.0 373.6,977.6 377.1,979.1 380.6,980.5 384.1,981.9 387.6,983.3 391.1,984.5 394.6,985.8 398.1,987.0 401.6,988.1 405.1,989.2 408.6,990.3 412.1,991.4 415.6,992.4 419.1,993.3 422.6,994.3 426.1,995.2 429.6,996.1 433.1,996.9 436.6,997.7 440.1,998.5 443.6,999.3 447.1,1000.1 450.6,1000.8 454.1,1001.5 457.6,1002.2 461.1,1002.9 464.6,1003.6 468.1,1004.2 471.6,1004.8 475.1,1005.5 478.6,1006.1 482.1,1006.6 485.6,1007.2 489.1,1007.8 492.6,1008.3 496.1,1008.9 499.6,1009.4 503.1,1009.9 506.6,1010.4 510.1,1010.9 513.6,1011.4 517.1,1011.8 520.6,1012.3 524.1,1012.7 527.6,1013.2 531.1,1013.6 534.6,1014.0 538.1,1014.4 541.6,1014.8 545.1,1015.2 548.6,1015.6 552.1,1016.0 555.6,1016.4 559.1,1016.8 562.6,1017.1 566.1,1017.5 569.6,1017.8 573.1,1018.1 576.6,1018.5 580.1,1018.8 583.6,1019.1 587.1,1019.4 590.6,1019.7 594.1,1020.0 597.6,1020.3 601.1,1020.6 604.6,1020.9 608.1,1021.2 611.6,1021.4 615.1,1021.7 618.6,1021.9 622.1,1022.2 625.6,1022.4 629.1,1022.7 632.6,1022.9 636.1,1023.1 639.6,1023.4 643.1,1023.6 646.6,1023.8 650.1,1024.0 653.6,1024.2 657.2,1024.4 660.7,1024.5 664.2,1024.7 667.7,1024.9 671.2,1025.1 674.7,1025.2 678.2,1025.4 681.7,1025.5 685.2,1025.7 688.7,1025.8 692.2,1026.0 695.7,1026.1 699.2,1026.2 702.7,1026.4 706.2,1026.5" fill="none" stroke="#7f3f08" stroke-width="2.35" stroke-linejoin="round" stroke-dasharray="16.24 6.96"/>
</g>
<text class="pl" x="141.1" y="642.0" textLength="25.1" lengthAdjust="spacingAndGlyphs">C</text>
<text class="pt" y="642.2"><tspan x="206.8" textLength="111.3" lengthAdjust="spacingAndGlyphs">Cattle</tspan> <tspan x="328.8" textLength="154.3" lengthAdjust="spacingAndGlyphs">systems</tspan></text>
<text class="lb" x="496.6" y="994.2" fill="#7f3f08" transform="rotate(5.9 496.6 994.2)" textLength="188.6" lengthAdjust="spacingAndGlyphs">Mid-West USA</text>
<text class="lb" x="466.9" y="1070.6" fill="#c9772f" transform="rotate(6.1 466.9 1070.6)" textLength="71.5" lengthAdjust="spacingAndGlyphs">Brazil</text>
<text class="lb" x="274.6" y="1087.2" fill="#f28e3a" transform="rotate(10.3 274.6 1087.2)" textLength="103.8" lengthAdjust="spacingAndGlyphs">Sweden</text>
<path d="M802.7,653.9V1126.3" fill="none" stroke="#d0d0d0" stroke-width="2.2"/>
<path d="M801.7,1125.3H1387.4" fill="none" stroke="#b6b6b6" stroke-width="2.1"/>
<path d="M795.2,1125.3H802.7M795.2,1007.7H802.7M795.2,890.1H802.7M795.2,772.5H802.7M795.2,654.9H802.7M802.7,1125.3V1132.8M919.4,1125.3V1132.8M1036.2,1125.3V1132.8M1152.9,1125.3V1132.8M1269.7,1125.3V1132.8M1386.4,1125.3V1132.8" fill="none" stroke="#ababab" stroke-width="2.1"/>
<g class="tk" text-anchor="end">
<text x="789.8" y="1135.7" textLength="36.5" lengthAdjust="spacingAndGlyphs">0.0</text>
<text x="789.8" y="1018.1" textLength="36.5" lengthAdjust="spacingAndGlyphs">0.1</text>
<text x="789.8" y="900.5" textLength="36.5" lengthAdjust="spacingAndGlyphs">0.2</text>
<text x="789.8" y="782.9" textLength="36.5" lengthAdjust="spacingAndGlyphs">0.3</text>
<text x="789.8" y="665.3" textLength="36.5" lengthAdjust="spacingAndGlyphs">0.4</text>
</g><g class="tk" text-anchor="middle">
<text x="802.7" y="1158.3" textLength="14.6" lengthAdjust="spacingAndGlyphs">0</text>
<text x="919.4" y="1158.3" textLength="43.8" lengthAdjust="spacingAndGlyphs">200</text>
<text x="1036.2" y="1158.3" textLength="43.8" lengthAdjust="spacingAndGlyphs">400</text>
<text x="1152.9" y="1158.3" textLength="43.8" lengthAdjust="spacingAndGlyphs">600</text>
<text x="1269.7" y="1158.3" textLength="43.8" lengthAdjust="spacingAndGlyphs">800</text>
<text x="1386.4" y="1158.3" textLength="58.4" lengthAdjust="spacingAndGlyphs">1000</text>
</g>
<text class="at" text-anchor="middle" x="1094.6" y="1196.1">Year</text>
<clipPath id="cpD"><rect x="802.7" y="634.9" width="583.7" height="491.7"/></clipPath>
<g clip-path="url(#cpD)">
<polyline points="802.7,1125.3 803.6,1124.9 804.5,1124.5 805.5,1124.1 806.4,1123.7 807.3,1123.4 808.2,1123.0 809.1,1122.6 810.1,1122.2 811.0,1121.8 811.9,1121.4 812.8,1121.0 813.8,1120.6 814.7,1120.3 815.6,1119.9 816.5,1119.5 817.5,1119.1 818.4,1118.7 819.3,1118.4 820.2,1118.0 821.2,1117.6 822.1,1117.2 823.0,1116.8 823.9,1116.5 824.9,1116.1 825.8,1115.7 826.7,1115.3 827.6,1115.0 828.6,1114.6 829.5,1114.2 830.4,1113.9 831.4,1113.5 832.3,1113.1 833.2,1112.8 834.2,1112.4 835.1,1112.1 836.1,1111.8 837.0,1111.4 837.9,1111.1 838.9,1110.7 839.8,1110.4 840.8,1110.1 841.7,1109.8 842.7,1109.4 843.6,1109.1 844.5,1108.8 845.5,1108.5 846.4,1108.1 847.4,1107.8 848.3,1107.5 849.3,1107.1 850.2,1106.8 851.2,1106.5 852.1,1106.1 853.0,1105.8 854.0,1105.4 854.9,1105.1 855.8,1104.7 856.8,1104.4 857.7,1104.0 858.7,1103.7 859.6,1103.4 860.5,1103.0 861.5,1102.7 862.4,1102.4 863.4,1102.0 864.3,1101.7 865.3,1101.4 866.2,1101.2 867.2,1100.9 868.2,1100.6 869.1,1100.4 870.1,1100.1 871.1,1099.9 872.0,1099.7 873.0,1099.5 874.0,1099.2 875.0,1099.0 876.0,1098.8 876.9,1098.7 878.9,1098.3 881.9,1097.8 884.8,1097.3 887.8,1096.9 890.8,1096.5 893.7,1096.1 896.7,1095.8 899.7,1095.5 902.7,1095.3 905.7,1095.1 908.7,1094.9 911.7,1094.8 914.7,1094.6 917.7,1094.5 920.7,1094.4 923.7,1094.4 926.7,1094.3 929.7,1094.3 932.7,1094.2 935.7,1094.2 938.7,1094.1 941.7,1094.1 944.7,1094.1 947.7,1094.0 950.7,1094.0 953.7,1094.0 956.7,1094.0 959.7,1093.9 962.7,1093.9 965.7,1093.9 968.7,1093.9 971.7,1093.8 974.7,1093.8 977.7,1093.8 980.7,1093.8 983.7,1093.8 986.7,1093.7 989.7,1093.7 992.7,1093.7 995.7,1093.7 998.7,1093.7 1001.7,1093.7 1004.7,1093.6 1007.7,1093.6 1010.7,1093.6 1013.7,1093.6 1016.7,1093.6 1019.7,1093.6 1022.7,1093.5 1025.7,1093.5 1028.7,1093.5 1031.7,1093.5 1034.7,1093.5 1037.7,1093.5 1040.7,1093.5 1043.7,1093.4 1046.7,1093.4 1049.7,1093.4 1052.7,1093.4 1055.7,1093.4 1058.7,1093.4 1061.7,1093.4 1064.7,1093.4 1067.7,1093.3 1070.7,1093.3 1073.7,1093.3 1076.7,1093.3 1079.7,1093.3 1082.7,1093.3 1085.7,1093.3 1088.7,1093.2 1091.7,1093.2 1094.7,1093.2 1097.7,1093.2 1100.7,1093.2 1103.7,1093.2 1106.7,1093.2 1109.7,1093.2 1112.7,1093.1 1115.7,1093.1 1118.7,1093.1 1121.7,1093.1 1124.7,1093.1 1127.7,1093.1 1130.7,1093.1 1133.7,1093.0 1136.7,1093.0 1139.7,1093.0 1142.7,1093.0 1145.7,1093.0 1148.7,1093.0 1151.7,1093.0 1154.7,1093.0 1157.7,1093.0 1160.7,1092.9 1163.7,1092.9 1166.7,1092.9 1169.7,1092.9 1172.7,1092.9 1175.7,1092.9 1178.7,1092.9 1181.7,1092.9 1184.7,1092.8 1187.7,1092.8 1190.7,1092.8 1193.7,1092.8 1196.7,1092.8 1199.7,1092.8 1202.7,1092.8 1205.7,1092.8 1208.7,1092.8 1211.7,1092.7 1214.7,1092.7 1217.7,1092.7 1220.7,1092.7 1223.7,1092.7 1226.7,1092.7 1229.7,1092.7 1232.7,1092.7 1235.7,1092.7 1238.7,1092.7 1241.7,1092.6 1244.7,1092.6 1247.7,1092.6 1250.7,1092.6 1253.7,1092.6 1256.7,1092.6 1259.7,1092.6 1262.7,1092.6 1265.7,1092.6 1268.7,1092.6 1271.7,1092.5 1274.7,1092.5 1277.7,1092.5 1280.7,1092.5 1283.7,1092.5 1286.7,1092.5 1289.7,1092.5 1292.7,1092.5 1295.7,1092.5 1298.7,1092.5 1301.7,1092.5 1304.7,1092.5 1307.7,1092.4 1310.7,1092.4 1313.7,1092.4 1316.7,1092.4 1319.7,1092.4 1322.7,1092.4 1325.7,1092.4 1328.7,1092.4 1331.7,1092.4 1334.7,1092.4 1337.7,1092.4 1340.7,1092.4 1343.7,1092.4 1346.7,1092.4 1349.7,1092.4 1352.7,1092.4 1355.7,1092.3 1358.7,1092.3 1361.7,1092.3 1364.7,1092.3 1367.7,1092.3 1370.7,1092.3 1373.7,1092.3 1376.7,1092.3 1379.7,1092.3 1382.7,1092.3 1385.7,1092.3 1386.2,1092.3" fill="none" stroke="#6350f8" stroke-width="2.35" stroke-linejoin="round" stroke-dasharray="2.45 7.35"/>
<polyline points="802.7,1125.3 803.4,1124.6 804.1,1123.8 804.8,1123.1 805.4,1122.4 806.1,1121.7 806.8,1121.0 807.5,1120.2 808.2,1119.5 809.0,1118.8 809.7,1118.1 810.4,1117.4 811.1,1116.8 811.9,1116.1 812.6,1115.4 813.3,1114.7 814.1,1114.1 814.9,1113.4 815.6,1112.8 816.4,1112.2 817.2,1111.5 817.9,1110.9 818.7,1110.3 819.5,1109.7 820.3,1109.0 821.1,1108.4 821.9,1107.8 822.7,1107.2 823.5,1106.6 824.2,1106.0 825.0,1105.3 825.8,1104.7 826.6,1104.1 827.4,1103.5 828.2,1102.8 828.9,1102.2 829.7,1101.6 830.5,1100.9 831.2,1100.3 832.0,1099.6 832.8,1099.0 833.5,1098.3 834.3,1097.7 835.0,1097.0 835.8,1096.4 836.6,1095.7 837.3,1095.1 838.1,1094.4 838.8,1093.8 839.6,1093.1 840.4,1092.5 841.1,1091.8 841.9,1091.2 842.6,1090.5 843.4,1089.9 844.2,1089.3 845.0,1088.6 845.7,1088.0 846.5,1087.4 847.3,1086.7 848.1,1086.1 848.8,1085.5 849.6,1084.9 850.4,1084.2 851.2,1083.6 852.0,1083.0 852.8,1082.4 853.6,1081.8 854.4,1081.2 855.2,1080.6 856.0,1080.0 856.8,1079.4 857.6,1078.8 858.4,1078.2 859.2,1077.7 860.1,1077.1 860.9,1076.6 861.7,1076.0 862.6,1075.5 863.4,1075.0 865.2,1073.9 867.8,1072.5 870.4,1071.1 873.1,1069.7 875.8,1068.5 878.6,1067.3 881.4,1066.2 884.2,1065.2 887.1,1064.3 889.9,1063.4 892.8,1062.7 895.8,1062.0 898.7,1061.4 901.6,1060.8 904.6,1060.3 907.6,1059.9 910.5,1059.6 913.5,1059.3 916.5,1059.0 919.5,1058.8 922.5,1058.6 925.5,1058.4 928.5,1058.3 931.5,1058.2 934.5,1058.0 937.5,1057.9 940.5,1057.8 943.5,1057.7 946.5,1057.6 949.5,1057.5 952.5,1057.4 955.5,1057.3 958.5,1057.2 961.5,1057.2 964.5,1057.1 967.5,1057.0 970.5,1057.0 973.5,1056.9 976.5,1056.8 979.5,1056.8 982.5,1056.7 985.5,1056.7 988.5,1056.6 991.5,1056.6 994.5,1056.5 997.5,1056.5 1000.5,1056.4 1003.5,1056.4 1006.5,1056.3 1009.5,1056.3 1012.5,1056.3 1015.5,1056.2 1018.5,1056.2 1021.5,1056.1 1024.5,1056.1 1027.5,1056.0 1030.5,1056.0 1033.5,1056.0 1036.5,1055.9 1039.5,1055.9 1042.5,1055.8 1045.5,1055.8 1048.5,1055.8 1051.5,1055.7 1054.5,1055.7 1057.5,1055.7 1060.5,1055.6 1063.5,1055.6 1066.5,1055.5 1069.5,1055.5 1072.5,1055.5 1075.5,1055.4 1078.6,1055.4 1081.6,1055.4 1084.6,1055.3 1087.6,1055.3 1090.6,1055.3 1093.6,1055.3 1096.6,1055.2 1099.6,1055.2 1102.6,1055.2 1105.6,1055.2 1108.6,1055.1 1111.6,1055.1 1114.6,1055.1 1117.6,1055.0 1120.6,1055.0 1123.6,1055.0 1126.6,1055.0 1129.6,1054.9 1132.6,1054.9 1135.6,1054.9 1138.6,1054.9 1141.6,1054.8 1144.6,1054.8 1147.6,1054.8 1150.6,1054.8 1153.6,1054.7 1156.6,1054.7 1159.6,1054.7 1162.6,1054.7 1165.6,1054.6 1168.6,1054.6 1171.6,1054.6 1174.6,1054.6 1177.6,1054.5 1180.6,1054.5 1183.6,1054.5 1186.6,1054.5 1189.6,1054.4 1192.6,1054.4 1195.6,1054.4 1198.6,1054.4 1201.6,1054.3 1204.6,1054.3 1207.6,1054.3 1210.6,1054.3 1213.6,1054.2 1216.6,1054.2 1219.6,1054.2 1222.6,1054.2 1225.6,1054.1 1228.6,1054.1 1231.6,1054.1 1234.6,1054.1 1237.6,1054.1 1240.6,1054.0 1243.6,1054.0 1246.6,1054.0 1249.6,1054.0 1252.6,1054.0 1255.6,1053.9 1258.6,1053.9 1261.6,1053.9 1264.6,1053.9 1267.6,1053.9 1270.6,1053.8 1273.6,1053.8 1276.6,1053.8 1279.6,1053.8 1282.6,1053.8 1285.6,1053.7 1288.7,1053.7 1291.7,1053.7 1294.7,1053.7 1297.7,1053.7 1300.7,1053.7 1303.7,1053.6 1306.7,1053.6 1309.7,1053.6 1312.7,1053.6 1315.7,1053.6 1318.7,1053.6 1321.7,1053.5 1324.7,1053.5 1327.7,1053.5 1330.7,1053.5 1333.7,1053.5 1336.7,1053.5 1339.7,1053.5 1342.7,1053.4 1345.7,1053.4 1348.7,1053.4 1351.7,1053.4 1354.7,1053.4 1357.7,1053.4 1360.7,1053.4 1363.7,1053.4 1366.7,1053.4 1369.7,1053.3 1372.7,1053.3 1375.7,1053.3 1378.7,1053.3 1381.7,1053.3 1384.7,1053.3 1386.2,1053.3" fill="none" stroke="#5240e2" stroke-width="2.35" stroke-linejoin="round" stroke-dasharray="9.80 9.80"/>
<polyline points="802.7,1125.3 803.1,1124.4 803.5,1123.5 803.9,1122.5 804.3,1121.6 804.7,1120.7 805.1,1119.8 805.5,1118.9 806.0,1118.0 806.4,1117.1 806.9,1116.2 807.3,1115.3 807.8,1114.5 808.3,1113.6 808.8,1112.7 809.3,1111.8 809.8,1111.0 810.3,1110.1 810.8,1109.2 811.3,1108.4 811.8,1107.5 812.3,1106.7 812.8,1105.8 813.4,1105.0 813.9,1104.1 814.4,1103.3 814.9,1102.4 815.4,1101.5 816.0,1100.7 816.5,1099.8 817.0,1099.0 817.5,1098.1 818.0,1097.3 818.5,1096.4 819.0,1095.5 819.5,1094.7 820.0,1093.8 820.5,1092.9 821.0,1092.1 821.5,1091.2 822.0,1090.3 822.6,1089.5 823.1,1088.6 823.6,1087.8 824.1,1086.9 824.6,1086.0 825.1,1085.2 825.6,1084.3 826.1,1083.4 826.6,1082.6 827.1,1081.7 827.6,1080.8 828.1,1080.0 828.6,1079.1 829.1,1078.2 829.6,1077.4 830.1,1076.5 830.6,1075.7 831.1,1074.8 831.6,1073.9 832.1,1073.1 832.6,1072.2 833.1,1071.3 833.6,1070.5 834.1,1069.6 834.6,1068.7 835.1,1067.9 835.6,1067.0 836.1,1066.1 836.6,1065.3 837.1,1064.4 837.6,1063.5 838.1,1062.7 838.7,1061.8 839.2,1061.0 839.7,1060.1 840.2,1059.2 840.7,1058.4 841.2,1057.5 841.7,1056.6 842.7,1054.9 844.2,1052.3 845.7,1049.7 847.2,1047.1 848.7,1044.5 850.2,1041.9 851.8,1039.4 853.3,1036.8 854.8,1034.2 856.4,1031.6 857.9,1029.1 859.5,1026.5 861.2,1024.0 862.9,1021.6 864.8,1019.3 866.8,1017.1 868.9,1015.0 871.2,1013.0 873.5,1011.1 875.9,1009.3 878.4,1007.7 881.0,1006.2 883.6,1004.8 886.4,1003.5 889.2,1002.4 892.0,1001.5 894.9,1000.7 897.8,1000.0 900.7,999.4 903.7,998.8 906.6,998.4 909.6,998.0 912.6,997.8 915.6,997.5 918.6,997.4 921.6,997.3 924.6,997.2 927.6,997.2 930.6,997.1 933.6,997.1 936.6,997.0 939.6,997.0 942.6,997.0 945.6,996.9 948.6,996.9 951.6,996.8 954.6,996.7 957.6,996.7 960.6,996.6 963.6,996.5 966.6,996.5 969.6,996.4 972.6,996.3 975.6,996.2 978.6,996.2 981.6,996.1 984.6,996.0 987.6,996.0 990.6,995.9 993.6,995.9 996.6,995.8 999.6,995.8 1002.6,995.8 1005.6,995.8 1008.6,995.7 1011.6,995.7 1014.6,995.7 1017.6,995.7 1020.6,995.6 1023.6,995.6 1026.6,995.6 1029.6,995.6 1032.6,995.5 1035.6,995.5 1038.6,995.5 1041.6,995.5 1044.6,995.5 1047.6,995.4 1050.6,995.4 1053.6,995.4 1056.6,995.4 1059.6,995.3 1062.6,995.3 1065.6,995.3 1068.6,995.3 1071.6,995.3 1074.6,995.2 1077.6,995.2 1080.6,995.2 1083.6,995.2 1086.6,995.2 1089.6,995.1 1092.6,995.1 1095.6,995.1 1098.6,995.1 1101.6,995.1 1104.6,995.0 1107.6,995.0 1110.6,995.0 1113.6,995.0 1116.6,995.0 1119.6,995.0 1122.6,994.9 1125.6,994.9 1128.6,994.9 1131.6,994.9 1134.6,994.9 1137.6,994.9 1140.6,994.8 1143.6,994.8 1146.6,994.8 1149.6,994.8 1152.6,994.8 1155.6,994.8 1158.6,994.8 1161.6,994.7 1164.6,994.7 1167.6,994.7 1170.6,994.7 1173.6,994.7 1176.6,994.7 1179.6,994.7 1182.6,994.6 1185.6,994.6 1188.6,994.6 1191.6,994.6 1194.6,994.6 1197.6,994.6 1200.6,994.6 1203.6,994.6 1206.6,994.5 1209.6,994.5 1212.6,994.5 1215.6,994.5 1218.7,994.5 1221.7,994.5 1224.7,994.5 1227.7,994.5 1230.7,994.5 1233.7,994.4 1236.7,994.4 1239.7,994.4 1242.7,994.4 1245.7,994.4 1248.7,994.4 1251.7,994.4 1254.7,994.4 1257.7,994.4 1260.7,994.4 1263.7,994.4 1266.7,994.4 1269.7,994.3 1272.7,994.3 1275.7,994.3 1278.7,994.3 1281.7,994.3 1284.7,994.3 1287.7,994.3 1290.7,994.3 1293.7,994.3 1296.7,994.3 1299.7,994.3 1302.7,994.3 1305.7,994.3 1308.7,994.3 1311.7,994.3 1314.7,994.3 1317.7,994.3 1320.7,994.2 1323.7,994.2 1326.7,994.2 1329.7,994.2 1332.7,994.2 1335.7,994.2 1338.7,994.2 1341.7,994.2 1344.7,994.2 1347.7,994.2 1350.7,994.2 1353.7,994.2 1356.7,994.2 1359.7,994.2 1362.7,994.2 1365.7,994.2 1368.7,994.2 1371.7,994.2 1374.7,994.2 1377.7,994.2 1380.7,994.2 1383.7,994.2 1386.2,994.2" fill="none" stroke="#3f2cc4" stroke-width="2.35" stroke-linejoin="round" stroke-dasharray="2.45 7.35 9.80 7.35"/>
<polyline points="802.7,1125.3 802.9,1124.3 803.1,1123.3 803.2,1122.3 803.4,1121.4 803.6,1120.4 803.8,1119.4 803.9,1118.4 804.1,1117.4 804.3,1116.4 804.4,1115.5 804.6,1114.5 804.8,1113.5 805.0,1112.5 805.1,1111.5 805.3,1110.5 805.5,1109.5 805.6,1108.6 805.8,1107.6 806.0,1106.6 806.1,1105.6 806.3,1104.6 806.4,1103.6 806.6,1102.6 806.8,1101.6 806.9,1100.7 807.1,1099.7 807.3,1098.7 807.4,1097.7 807.6,1096.7 807.7,1095.7 807.9,1094.7 808.1,1093.7 808.2,1092.8 808.4,1091.8 808.5,1090.8 808.7,1089.8 808.8,1088.8 809.0,1087.8 809.1,1086.8 809.3,1085.8 809.5,1084.9 809.6,1083.9 809.8,1082.9 809.9,1081.9 810.1,1080.9 810.2,1079.9 810.4,1078.9 810.5,1077.9 810.7,1076.9 810.8,1076.0 810.9,1075.0 811.1,1074.0 811.2,1073.0 811.4,1072.0 811.5,1071.0 811.7,1070.0 811.8,1069.0 812.0,1068.0 812.1,1067.0 812.2,1066.1 812.4,1065.1 812.5,1064.1 812.6,1063.1 812.8,1062.1 812.9,1061.1 813.1,1060.1 813.2,1059.1 813.3,1058.1 813.5,1057.1 813.6,1056.1 813.7,1055.2 813.8,1054.2 814.0,1053.2 814.1,1052.2 814.2,1051.2 814.4,1050.2 814.5,1049.2 814.6,1048.2 814.8,1047.2 815.0,1045.2 815.4,1042.3 815.8,1039.3 816.3,1036.3 816.7,1033.4 817.1,1030.4 817.6,1027.4 818.1,1024.5 818.6,1021.5 819.1,1018.5 819.6,1015.6 820.1,1012.6 820.7,1009.7 821.2,1006.7 821.7,1003.8 822.3,1000.8 822.8,997.9 823.3,994.9 823.9,992.0 824.4,989.0 824.9,986.1 825.4,983.1 826.0,980.2 826.5,977.2 827.0,974.2 827.6,971.3 828.1,968.3 828.6,965.4 829.2,962.4 829.7,959.5 830.2,956.5 830.8,953.6 831.3,950.6 831.9,947.7 832.4,944.7 832.9,941.8 833.5,938.8 834.0,935.9 834.6,932.9 835.1,930.0 835.7,927.0 836.2,924.1 836.8,921.1 837.4,918.2 837.9,915.2 838.5,912.3 839.1,909.4 839.7,906.4 840.3,903.5 840.9,900.5 841.5,897.6 842.1,894.6 842.7,891.7 843.3,888.8 843.9,885.8 844.5,882.9 845.1,879.9 845.7,877.0 846.3,874.1 846.9,871.1 847.5,868.2 848.1,865.3 848.7,862.3 849.3,859.4 849.9,856.4 850.4,853.5 850.9,850.5 851.4,847.6 851.9,844.6 852.3,841.6 852.8,838.7 853.2,835.7 853.6,832.7 854.1,829.8 854.6,826.8 855.0,823.8 855.5,820.9 856.0,817.9 856.5,815.0 856.9,812.0 857.5,809.0 858.0,806.1 858.5,803.1 859.0,800.2 859.6,797.2 860.2,794.3 860.8,791.3 861.4,788.4 862.0,785.5 862.6,782.5 863.2,779.6 863.9,776.7 864.5,773.7 865.2,770.8 865.8,767.9 866.5,765.0 867.3,762.1 868.1,759.2 869.0,756.3 869.9,753.5 870.9,750.6 871.9,747.8 873.0,745.0 874.1,742.2 875.2,739.4 876.3,736.6 877.5,733.9 878.8,731.2 880.2,728.5 881.7,726.0 883.4,723.5 885.2,721.1 887.2,718.9 889.2,716.7 891.3,714.5 893.5,712.4 895.7,710.4 897.9,708.4 900.3,706.6 902.7,704.9 905.3,703.5 908.0,702.2 910.8,701.1 913.7,700.2 916.6,699.4 919.5,698.8 922.4,698.2 925.4,697.8 928.4,697.4 931.3,697.1 934.3,696.8 937.3,696.6 940.3,696.5 943.3,696.5 946.3,696.4 949.3,696.4 952.3,696.4 955.3,696.3 958.3,696.3 961.3,696.3 964.3,696.3 967.3,696.4 970.3,696.4 973.3,696.5 976.3,696.7 979.3,696.8 982.3,697.0 985.3,697.1 988.3,697.2 991.3,697.3 994.3,697.4 997.3,697.5 1000.3,697.5 1003.3,697.5 1006.3,697.4 1009.3,697.4 1012.3,697.3 1015.3,697.3 1018.3,697.2 1021.3,697.1 1024.3,697.0 1027.3,696.9 1030.3,696.8 1033.3,696.7 1036.3,696.6 1039.3,696.5 1042.3,696.3 1045.3,696.2 1048.3,696.0 1051.3,695.8 1054.3,695.7 1057.3,695.5 1060.3,695.4 1063.3,695.2 1066.2,695.1 1069.2,694.9 1072.2,694.8 1075.2,694.7 1078.2,694.6 1081.2,694.4 1084.2,694.3 1087.2,694.2 1090.2,694.1 1093.2,693.9 1096.2,693.8 1099.2,693.7 1102.2,693.6 1105.2,693.5 1108.2,693.4 1111.2,693.2 1114.2,693.1 1117.2,693.0 1120.2,692.9 1123.2,692.8 1126.2,692.7 1129.2,692.6 1132.2,692.5 1135.2,692.4 1138.2,692.2 1141.2,692.1 1144.2,692.0 1147.2,691.9 1150.2,691.8 1153.2,691.7 1156.2,691.6 1159.2,691.5 1162.2,691.4 1165.2,691.3 1168.2,691.2 1171.2,691.2 1174.2,691.1 1177.2,691.0 1180.2,690.9 1183.2,690.8 1186.2,690.8 1189.2,690.7 1192.2,690.6 1195.2,690.5 1198.2,690.5 1201.2,690.4 1204.2,690.3 1207.2,690.3 1210.2,690.2 1213.2,690.1 1216.2,690.1 1219.2,690.0 1222.2,690.0 1225.2,689.9 1228.2,689.9 1231.2,689.9 1234.2,689.8 1237.2,689.8 1240.2,689.8 1243.2,689.7 1246.2,689.7 1249.2,689.7 1252.2,689.7 1255.2,689.6 1258.2,689.6 1261.2,689.6 1264.2,689.6 1267.2,689.5 1270.2,689.5 1273.2,689.5 1276.2,689.5 1279.2,689.5 1282.2,689.5 1285.2,689.4 1288.2,689.4 1291.2,689.4 1294.2,689.4 1297.2,689.4 1300.2,689.4 1303.2,689.4 1306.2,689.3 1309.2,689.3 1312.2,689.3 1315.2,689.3 1318.2,689.3 1321.2,689.3 1324.2,689.3 1327.2,689.3 1330.2,689.2 1333.2,689.2 1336.2,689.2 1339.2,689.2 1342.2,689.2 1345.2,689.2 1348.2,689.2 1351.2,689.2 1354.2,689.2 1357.2,689.2 1360.2,689.2 1363.2,689.1 1366.2,689.1 1369.2,689.1 1372.2,689.1 1375.2,689.1 1378.2,689.1 1381.2,689.1 1384.2,689.1 1386.2,689.1" fill="none" stroke="#1e1878" stroke-width="2.35" stroke-linejoin="round" stroke-dasharray="17.15 7.35"/>
</g>
<text class="pl" x="829.6" y="641.8" textLength="25.5" lengthAdjust="spacingAndGlyphs">D</text>
<text class="pt" y="642.2"><tspan x="895.9" textLength="170.0" lengthAdjust="spacingAndGlyphs">Cultured</tspan> <tspan x="1072.0" textLength="153.8" lengthAdjust="spacingAndGlyphs">systems</tspan></text>
<text class="lb" x="1173.3" y="718.3" fill="#1e1878" textLength="135" lengthAdjust="spacingAndGlyphs">Cultured-d</text>
<text class="lb" x="1173.3" y="990.2" fill="#3f2cc4" textLength="135" lengthAdjust="spacingAndGlyphs">Cultured-c</text>
<text class="lb" x="1173.3" y="1048.4" fill="#5240e2" textLength="135" lengthAdjust="spacingAndGlyphs">Cultured-b</text>
<text class="lb" x="1173.3" y="1084.3" fill="#6350f8" textLength="135" lengthAdjust="spacingAndGlyphs">Cultured-a</text>
<path d="M423.4,1253.1V1725.4" fill="none" stroke="#d0d0d0" stroke-width="2.2"/>
<path d="M422.4,1724.4H920.9" fill="none" stroke="#b6b6b6" stroke-width="2.1"/>
<path d="M415.9,1724.4H423.4M415.9,1567.6H423.4M415.9,1410.9H423.4M415.9,1254.1H423.4M423.4,1724.4V1731.9M522.7,1724.4V1731.9M622.0,1724.4V1731.9M721.3,1724.4V1731.9M820.6,1724.4V1731.9M919.9,1724.4V1731.9" fill="none" stroke="#ababab" stroke-width="2.1"/>
<g class="tk" text-anchor="end">
<text x="410.5" y="1734.8" textLength="36.5" lengthAdjust="spacingAndGlyphs">0.0</text>
<text x="410.5" y="1578.0" textLength="36.5" lengthAdjust="spacingAndGlyphs">0.2</text>
<text x="410.5" y="1421.3" textLength="36.5" lengthAdjust="spacingAndGlyphs">0.4</text>
<text x="410.5" y="1264.5" textLength="36.5" lengthAdjust="spacingAndGlyphs">0.6</text>
</g><g class="tk" text-anchor="middle">
<text x="423.4" y="1757.4" textLength="14.6" lengthAdjust="spacingAndGlyphs">0</text>
<text x="522.7" y="1757.4" textLength="43.8" lengthAdjust="spacingAndGlyphs">200</text>
<text x="622.0" y="1757.4" textLength="43.8" lengthAdjust="spacingAndGlyphs">400</text>
<text x="721.3" y="1757.4" textLength="43.8" lengthAdjust="spacingAndGlyphs">600</text>
<text x="820.6" y="1757.4" textLength="43.8" lengthAdjust="spacingAndGlyphs">800</text>
<text x="919.9" y="1757.4" textLength="58.4" lengthAdjust="spacingAndGlyphs">1000</text>
</g>
<text class="at" text-anchor="middle" transform="translate(354.0,1489.3) rotate(-90)" textLength="164.5" lengthAdjust="spacingAndGlyphs">Warming, K</text>
<text class="at" text-anchor="middle" x="796.9" y="1795.2">Year</text>
<clipPath id="cpE"><rect x="423.4" y="1234.1" width="994.6" height="491.6"/></clipPath>
<g clip-path="url(#cpE)">
<polyline points="423.4,1724.4 423.6,1724.4 423.9,1724.4 424.1,1724.4 424.4,1721.5 424.6,1714.4 424.9,1707.6 425.1,1701.0 425.4,1694.6 425.6,1688.4 425.9,1682.5 426.1,1676.7 426.4,1671.1 426.6,1665.7 426.9,1660.4 427.1,1655.4 427.4,1650.5 427.6,1645.7 427.9,1641.1 428.1,1636.6 428.4,1632.3 428.6,1628.1 428.9,1624.1 429.1,1620.1 429.4,1616.3 429.6,1612.6 429.9,1609.0 430.1,1605.6 430.4,1602.2 430.6,1598.9 430.8,1595.7 431.1,1592.7 431.3,1589.7 431.6,1586.7 431.8,1583.9 432.1,1581.2 432.3,1578.5 432.6,1575.9 432.8,1573.4 433.1,1570.9 433.3,1568.5 433.6,1566.2 433.8,1564.0 434.1,1561.8 434.3,1559.6 434.6,1557.5 434.8,1555.5 435.1,1553.5 435.3,1551.6 435.6,1549.7 435.8,1547.9 436.1,1546.1 436.3,1544.4 436.6,1542.7 436.8,1541.0 437.1,1539.4 437.3,1537.8 437.6,1536.3 437.8,1534.8 438.0,1533.3 438.3,1531.9 438.5,1530.5 438.8,1529.1 439.0,1527.8 439.3,1526.5 439.5,1525.2 439.8,1524.0 440.0,1522.7 440.3,1521.5 440.5,1520.4 440.8,1519.2 441.0,1518.1 441.3,1517.0 441.5,1515.9 441.8,1514.9 442.0,1513.8 442.3,1512.8 442.5,1511.8 442.8,1510.8 443.0,1509.9 443.3,1508.9 443.8,1507.1 444.3,1505.4 444.7,1503.7 445.2,1502.0 445.7,1500.4 446.2,1498.9 446.7,1497.4 447.2,1496.0 447.7,1494.6 448.2,1493.2 448.7,1491.9 449.2,1490.7 449.7,1489.4 450.2,1488.2 450.7,1487.1 451.2,1485.9 451.7,1484.8 452.2,1483.8 452.7,1482.7 453.2,1481.7 453.7,1480.7 454.2,1479.7 454.7,1478.7 455.2,1477.8 455.7,1476.9 456.2,1476.0 456.7,1475.1 457.2,1474.3 457.7,1473.4 458.2,1472.6 458.7,1471.8 459.1,1471.0 459.6,1470.2 460.1,1469.5 460.6,1468.7 461.1,1468.0 461.6,1467.3 462.1,1466.5 462.6,1465.8 463.1,1465.2 463.6,1464.5 464.1,1463.8 464.6,1463.2 465.1,1462.5 465.6,1461.9 466.1,1461.2 466.6,1460.6 467.1,1460.0 467.6,1459.4 468.1,1458.8 468.6,1458.2 469.1,1457.7 469.6,1457.1 470.1,1456.5 470.6,1456.0 471.1,1455.4 471.6,1454.9 472.1,1454.4 472.6,1453.8 473.0,1453.3 473.5,1452.8 474.0,1452.3 474.5,1451.8 475.0,1451.3 475.5,1450.8 476.0,1450.3 476.5,1449.9 476.8,1449.6 477.2,1451.2 477.7,1452.4 478.2,1453.5 478.7,1454.4 479.2,1455.3 479.7,1456.2 480.2,1457.3 480.7,1458.4 481.2,1459.7 481.7,1461.1 482.2,1462.6 482.7,1464.2 483.2,1465.9 483.7,1467.7 484.2,1469.6 484.7,1471.5 485.2,1473.6 485.7,1475.7 486.2,1477.8 486.7,1480.0 487.2,1482.2 487.7,1484.5 488.2,1486.7 488.7,1489.0 489.2,1491.3 489.7,1493.6 490.2,1495.9 490.7,1498.2 491.1,1500.5 491.6,1502.8 492.1,1505.0 492.6,1507.3 493.1,1509.5 493.6,1511.7 494.1,1514.0 494.6,1516.1 495.1,1518.3 495.6,1520.5 496.1,1522.6 496.6,1524.7 497.1,1526.8 497.6,1528.8 498.1,1530.8 498.6,1532.8 499.1,1534.8 499.6,1536.8 500.1,1538.7 500.6,1540.6 501.1,1542.5 501.6,1544.3 502.1,1546.2 502.6,1548.0 503.1,1549.8 503.6,1551.5 504.1,1553.3 504.6,1555.0 505.1,1556.7 505.5,1558.3 506.0,1560.0 506.5,1561.6 507.0,1563.2 507.5,1564.8 508.0,1566.3 508.5,1567.8 509.0,1569.3 509.5,1570.8 510.0,1572.3 510.5,1573.7 511.0,1575.2 511.5,1576.6 512.0,1578.0 512.5,1579.3 513.0,1580.7 513.5,1582.0 514.0,1583.3 514.5,1584.6 515.0,1585.9 515.5,1587.1 516.0,1588.4 516.5,1589.6 517.0,1590.8 517.5,1592.0 518.0,1593.1 518.5,1594.3 519.0,1595.4 519.5,1596.6 519.9,1597.7 520.4,1598.7 520.9,1599.8 521.4,1600.9 521.9,1601.9 522.4,1603.0 522.9,1604.0 523.4,1605.0 523.9,1606.0 524.4,1606.9 524.9,1607.9 525.4,1608.9 525.9,1609.8 526.4,1610.7 526.9,1611.6 527.4,1612.5 527.9,1613.4 528.4,1614.3 528.9,1615.1 529.4,1616.0 529.9,1616.8 530.4,1617.7 530.9,1618.5 531.4,1619.3 531.9,1620.1 532.4,1620.9 532.9,1621.6 533.4,1622.4 533.8,1623.2 534.3,1623.9 534.8,1624.6 535.3,1625.4 535.8,1626.1 536.3,1626.8 536.8,1627.5 537.3,1628.2 537.8,1628.8 538.3,1629.5 538.8,1630.2 539.3,1630.8 539.8,1631.5 540.3,1632.1 540.8,1632.7 541.3,1633.3 541.8,1634.0 542.3,1634.6 542.8,1635.2 543.3,1635.7 543.8,1636.3 544.3,1636.9 544.8,1637.5 545.3,1638.0 545.8,1638.6 546.3,1639.1 546.8,1639.7 547.3,1640.2 547.8,1640.7 548.2,1641.2 548.7,1641.7 549.2,1642.3 549.7,1642.8 550.2,1643.2 550.7,1643.7 551.2,1644.2 551.7,1644.7 552.2,1645.2 552.7,1645.6 553.2,1646.1 553.7,1646.5 554.2,1647.0 554.7,1647.4 555.2,1647.9 555.7,1648.3 556.2,1648.7 556.7,1649.1 557.2,1649.6 557.7,1650.0 558.2,1650.4 558.7,1650.8 559.2,1651.2 559.7,1651.6 560.2,1652.0 560.7,1652.3 561.2,1652.7 561.7,1653.1 562.1,1653.5 562.6,1653.8 563.1,1654.2 563.6,1654.6 564.1,1654.9 564.6,1655.3 565.1,1655.6 565.6,1656.0 566.1,1656.3 566.6,1656.6 567.1,1657.0 567.6,1657.3 568.1,1657.6 568.6,1657.9 569.1,1658.3 569.6,1658.6 570.1,1658.9 570.6,1659.2 571.1,1659.5 571.6,1659.8 572.1,1660.1 572.6,1660.4 573.1,1660.7 573.6,1661.0 574.1,1661.2 574.6,1661.5 575.1,1661.8 575.6,1662.1 576.1,1662.4 576.5,1662.6 577.0,1662.9 577.5,1663.2 578.0,1663.4 578.5,1663.7 579.0,1663.9 579.5,1664.2 580.0,1664.4 580.5,1664.7 581.0,1664.9 581.5,1665.2 582.0,1665.4 582.5,1665.7 585.5,1667.1 588.5,1668.4 591.4,1669.6 594.4,1670.8 597.4,1671.9 600.4,1673.0 603.4,1674.0 606.3,1674.9 609.3,1675.8 612.3,1676.7 615.3,1677.5 618.3,1678.3 621.2,1679.1 624.2,1679.8 627.2,1680.5 630.2,1681.1 633.1,1681.8 636.1,1682.4 639.1,1683.0 642.1,1683.5 645.1,1684.1 648.0,1684.6 651.0,1685.1 654.0,1685.6 657.0,1686.1 660.0,1686.5 662.9,1687.0 665.9,1687.4 668.9,1687.8 671.9,1688.2 674.9,1688.6 677.8,1689.0 680.8,1689.4 683.8,1689.7 686.8,1690.1 689.7,1690.4 692.7,1690.7 695.7,1691.0 698.7,1691.3 701.7,1691.6 704.6,1691.9 707.6,1692.2 710.6,1692.5 713.6,1692.8 716.6,1693.0 719.5,1693.3 722.5,1693.5 725.5,1693.8 728.5,1694.0 731.5,1694.3 734.4,1694.5 737.4,1694.7 740.4,1694.9 743.4,1695.1 746.4,1695.4 749.3,1695.6 752.3,1695.8 755.3,1696.0 758.3,1696.2 761.2,1696.3 764.2,1696.5 767.2,1696.7 770.2,1696.9 773.2,1697.1 776.1,1697.3 779.1,1697.4 782.1,1697.6 785.1,1697.8 788.1,1697.9 791.0,1698.1 794.0,1698.3 797.0,1698.4 800.0,1698.6 803.0,1698.7 805.9,1698.9 808.9,1699.0 811.9,1699.2 814.9,1699.3 817.8,1699.5 820.8,1699.6 823.8,1699.8 826.8,1699.9 829.8,1700.1 832.7,1700.2 835.7,1700.4 838.7,1700.5 841.7,1700.7 844.7,1700.8 847.6,1701.0 850.6,1701.1 853.6,1701.2 856.6,1701.4 859.6,1701.5 862.5,1701.7 865.5,1701.8 868.5,1702.0 871.5,1702.1 874.4,1702.3 877.4,1702.4 880.4,1702.5 883.4,1702.7 886.4,1702.8 889.3,1703.0 892.3,1703.1 895.3,1703.3 898.3,1703.4 901.3,1703.6 904.2,1703.7 907.2,1703.9 910.2,1704.0 913.2,1704.2 916.2,1704.3 919.1,1704.5" fill="none" stroke="#f28e3a" stroke-width="2.35" stroke-linejoin="round" stroke-dasharray="2.45 7.35"/>
<polyline points="423.4,1724.4 423.6,1724.4 423.9,1724.4 424.1,1724.4 424.4,1720.2 424.6,1710.0 424.9,1700.0 425.1,1690.4 425.4,1681.1 425.6,1672.0 425.9,1663.3 426.1,1654.7 426.4,1646.5 426.6,1638.5 426.9,1630.7 427.1,1623.2 427.4,1615.9 427.6,1608.8 427.9,1601.9 428.1,1595.2 428.4,1588.7 428.6,1582.4 428.9,1576.2 429.1,1570.3 429.4,1564.5 429.6,1558.9 429.9,1553.4 430.1,1548.1 430.4,1542.9 430.6,1537.9 430.8,1533.0 431.1,1528.2 431.3,1523.6 431.6,1519.1 431.8,1514.7 432.1,1510.5 432.3,1506.3 432.6,1502.3 432.8,1498.4 433.1,1494.5 433.3,1490.8 433.6,1487.2 433.8,1483.6 434.1,1480.2 434.3,1476.8 434.6,1473.5 434.8,1470.3 435.1,1467.2 435.3,1464.2 435.6,1461.2 435.8,1458.3 436.1,1455.5 436.3,1452.7 436.6,1450.0 436.8,1447.4 437.1,1444.8 437.3,1442.3 437.6,1439.9 437.8,1437.5 438.0,1435.2 438.3,1432.9 438.5,1430.7 438.8,1428.5 439.0,1426.3 439.3,1424.3 439.5,1422.2 439.8,1420.2 440.0,1418.3 440.3,1416.4 440.5,1414.5 440.8,1412.7 441.0,1410.9 441.3,1409.1 441.5,1407.4 441.8,1405.7 442.0,1404.1 442.3,1402.5 442.5,1400.9 442.8,1399.4 443.0,1397.8 443.3,1396.3 443.8,1393.5 444.3,1390.7 444.7,1388.0 445.2,1385.4 445.7,1382.9 446.2,1380.5 446.7,1378.2 447.2,1376.0 447.7,1373.8 448.2,1371.7 448.7,1369.7 449.2,1367.8 449.7,1365.9 450.2,1364.0 450.7,1362.2 451.2,1360.5 451.7,1358.8 452.2,1357.2 452.7,1355.6 453.2,1354.0 453.7,1352.5 454.2,1351.1 454.7,1349.6 455.2,1348.2 455.7,1346.9 456.2,1345.5 456.7,1344.2 457.2,1343.0 457.7,1341.7 458.2,1340.5 458.7,1339.3 459.1,1338.1 459.6,1337.0 460.1,1335.9 460.6,1334.8 461.1,1333.7 461.6,1332.6 462.1,1331.6 462.6,1330.5 463.1,1329.5 463.6,1328.5 464.1,1327.5 464.6,1326.6 465.1,1325.6 465.6,1324.7 466.1,1323.8 466.6,1322.8 467.1,1321.9 467.6,1321.0 468.1,1320.2 468.6,1319.3 469.1,1318.4 469.6,1317.6 470.1,1316.7 470.6,1315.9 471.1,1315.1 471.6,1314.2 472.1,1313.4 472.6,1312.6 473.0,1311.8 473.5,1311.0 474.0,1310.2 474.5,1309.5 475.0,1308.7 475.5,1307.9 475.8,1307.5 476.3,1306.9 476.8,1307.0 477.3,1307.6 477.8,1308.6 478.3,1309.9 478.8,1311.5 479.3,1313.2 479.7,1315.1 480.2,1317.2 480.7,1319.3 481.2,1321.6 481.7,1323.9 482.2,1326.4 482.7,1328.9 483.2,1331.5 483.7,1334.2 484.2,1336.9 484.7,1339.7 485.2,1342.6 485.7,1345.5 486.2,1348.5 486.7,1351.5 487.2,1354.6 487.7,1357.7 488.2,1360.9 488.7,1364.0 489.2,1367.3 489.7,1370.5 490.2,1373.8 490.7,1377.0 491.2,1380.3 491.7,1383.6 492.2,1386.9 492.7,1390.2 493.2,1393.6 493.6,1396.9 494.1,1400.2 494.6,1403.4 495.1,1406.7 495.6,1410.0 496.1,1413.2 496.6,1416.4 497.1,1419.6 497.6,1422.8 498.1,1426.0 498.6,1429.1 499.1,1432.2 499.6,1435.3 500.1,1438.3 500.6,1441.3 501.1,1444.3 501.6,1447.2 502.1,1450.1 502.6,1453.0 503.1,1455.8 503.6,1458.6 504.1,1461.4 504.6,1464.1 505.1,1466.8 505.6,1469.5 506.1,1472.1 506.6,1474.7 507.1,1477.2 507.6,1479.8 508.0,1482.2 508.5,1484.7 509.0,1487.1 509.5,1489.5 510.0,1491.8 510.5,1494.1 511.0,1496.4 511.5,1498.6 512.0,1500.8 512.5,1503.0 513.0,1505.1 513.5,1507.2 514.0,1509.3 514.5,1511.3 515.0,1513.3 515.5,1515.3 516.0,1517.2 516.5,1519.2 517.0,1521.0 517.5,1522.9 518.0,1524.7 518.5,1526.5 519.0,1528.3 519.5,1530.0 520.0,1531.8 520.5,1533.5 521.0,1535.1 521.5,1536.8 521.9,1538.4 522.4,1540.0 522.9,1541.6 523.4,1543.1 523.9,1544.6 524.4,1546.1 524.9,1547.6 525.4,1549.1 525.9,1550.5 526.4,1551.9 526.9,1553.3 527.4,1554.7 527.9,1556.0 528.4,1557.4 528.9,1558.7 529.4,1560.0 529.9,1561.3 530.4,1562.5 530.9,1563.8 531.4,1565.0 531.9,1566.2 532.4,1567.4 532.9,1568.6 533.4,1569.8 533.9,1570.9 534.4,1572.0 534.9,1573.2 535.4,1574.3 535.9,1575.3 536.3,1576.4 536.8,1577.5 537.3,1578.5 537.8,1579.5 538.3,1580.6 538.8,1581.6 539.3,1582.6 539.8,1583.5 540.3,1584.5 540.8,1585.5 541.3,1586.4 541.8,1587.3 542.3,1588.3 542.8,1589.2 543.3,1590.1 543.8,1591.0 544.3,1591.8 544.8,1592.7 545.3,1593.6 545.8,1594.4 546.3,1595.2 546.8,1596.1 547.3,1596.9 547.8,1597.7 548.3,1598.5 548.8,1599.3 549.3,1600.1 549.8,1600.8 550.3,1601.6 550.7,1602.3 551.2,1603.1 551.7,1603.8 552.2,1604.5 552.7,1605.3 553.2,1606.0 553.7,1606.7 554.2,1607.4 554.7,1608.1 555.2,1608.8 555.7,1609.4 556.2,1610.1 556.7,1610.8 557.2,1611.4 557.7,1612.1 558.2,1612.7 558.7,1613.3 559.2,1614.0 559.7,1614.6 560.2,1615.2 560.7,1615.8 561.2,1616.4 561.7,1617.0 562.2,1617.6 562.7,1618.2 563.2,1618.8 563.7,1619.3 564.2,1619.9 564.6,1620.5 565.1,1621.0 565.6,1621.6 566.1,1622.1 566.6,1622.6 567.1,1623.2 567.6,1623.7 568.1,1624.2 568.6,1624.7 569.1,1625.3 569.6,1625.8 570.1,1626.3 570.6,1626.8 571.1,1627.3 571.6,1627.8 572.1,1628.2 572.6,1628.7 573.1,1629.2 573.6,1629.7 574.1,1630.1 574.6,1630.6 575.1,1631.1 575.6,1631.5 576.1,1632.0 576.6,1632.4 577.1,1632.8 577.6,1633.3 578.1,1633.7 578.6,1634.1 579.0,1634.6 579.5,1635.0 580.0,1635.4 580.5,1635.8 581.0,1636.2 581.5,1636.6 582.0,1637.0 582.5,1637.4 585.5,1639.8 588.5,1642.0 591.5,1644.0 594.4,1646.0 597.4,1647.9 600.4,1649.7 603.4,1651.4 606.4,1653.0 609.3,1654.5 612.3,1656.0 615.3,1657.4 618.3,1658.7 621.2,1660.0 624.2,1661.2 627.2,1662.3 630.2,1663.4 633.2,1664.5 636.1,1665.5 639.1,1666.5 642.1,1667.4 645.1,1668.3 648.1,1669.1 651.0,1669.9 654.0,1670.7 657.0,1671.5 660.0,1672.2 663.0,1672.9 665.9,1673.6 668.9,1674.2 671.9,1674.9 674.9,1675.5 677.9,1676.1 680.8,1676.6 683.8,1677.2 686.8,1677.7 689.8,1678.3 692.7,1678.8 695.7,1679.3 698.7,1679.7 701.7,1680.2 704.7,1680.7 707.6,1681.1 710.6,1681.6 713.6,1682.0 716.6,1682.4 719.6,1682.8 722.5,1683.2 725.5,1683.6 728.5,1684.0 731.5,1684.4 734.5,1684.8 737.4,1685.2 740.4,1685.5 743.4,1685.9 746.4,1686.2 749.3,1686.6 752.3,1686.9 755.3,1687.3 758.3,1687.6 761.3,1687.9 764.2,1688.3 767.2,1688.6 770.2,1688.9 773.2,1689.2 776.2,1689.5 779.1,1689.8 782.1,1690.1 785.1,1690.4 788.1,1690.7 791.1,1691.0 794.0,1691.3 797.0,1691.5 800.0,1691.8 803.0,1692.1 805.9,1692.4 808.9,1692.6 811.9,1692.9 814.9,1693.1 817.9,1693.4 820.8,1693.6 823.8,1693.9 826.8,1694.1 829.8,1694.4 832.8,1694.6 835.7,1694.8 838.7,1695.0 841.7,1695.3 844.7,1695.5 847.7,1695.7 850.6,1695.9 853.6,1696.1 856.6,1696.3 859.6,1696.5 862.5,1696.7 865.5,1696.9 868.5,1697.0 871.5,1697.2 874.5,1697.4 877.4,1697.6 880.4,1697.7 883.4,1697.9 886.4,1698.0 889.4,1698.2 892.3,1698.3 895.3,1698.5 898.3,1698.6 901.3,1698.7 904.3,1698.9 907.2,1699.0 910.2,1699.1 913.2,1699.2 916.2,1699.3 919.1,1699.4 919.9,1699.4" fill="none" stroke="#c9772f" stroke-width="2.35" stroke-linejoin="round" stroke-dasharray="9.80 9.80"/>
<polyline points="423.4,1724.4 423.6,1724.4 423.9,1724.4 424.1,1724.4 424.4,1721.2 424.6,1713.2 424.9,1705.5 425.1,1698.0 425.4,1690.8 425.6,1683.7 425.9,1676.8 426.1,1670.1 426.4,1663.6 426.6,1657.3 426.9,1651.1 427.1,1645.1 427.4,1639.2 427.6,1633.5 427.9,1628.0 428.1,1622.6 428.4,1617.3 428.6,1612.1 428.9,1607.1 429.1,1602.2 429.4,1597.4 429.6,1592.7 429.9,1588.1 430.1,1583.6 430.4,1579.2 430.6,1574.9 430.8,1570.7 431.1,1566.6 431.3,1562.6 431.6,1558.7 431.8,1554.9 432.1,1551.1 432.3,1547.4 432.6,1543.8 432.8,1540.2 433.1,1536.7 433.3,1533.3 433.6,1529.9 433.8,1526.6 434.1,1523.4 434.3,1520.2 434.6,1517.1 434.8,1514.0 435.1,1511.0 435.3,1508.1 435.6,1505.1 435.8,1502.3 436.1,1499.4 436.3,1496.7 436.6,1493.9 436.8,1491.2 437.1,1488.6 437.3,1486.0 437.6,1483.4 437.8,1480.8 438.0,1478.3 438.3,1475.9 438.5,1473.4 438.8,1471.0 439.0,1468.7 439.3,1466.3 439.5,1464.0 439.8,1461.7 440.0,1459.5 440.3,1457.3 440.5,1455.1 440.8,1452.9 441.0,1450.8 441.3,1448.7 441.5,1446.6 441.8,1444.5 442.0,1442.5 442.3,1440.4 442.5,1438.4 442.8,1436.5 443.0,1434.5 443.3,1432.6 443.8,1428.8 444.3,1425.0 444.7,1421.4 445.2,1417.8 445.7,1414.3 446.2,1410.8 446.7,1407.4 447.2,1404.1 447.7,1400.9 448.2,1397.6 448.7,1394.5 449.2,1391.4 449.7,1388.3 450.2,1385.3 450.7,1382.4 451.2,1379.5 451.7,1376.6 452.2,1373.8 452.7,1371.0 453.2,1368.3 453.7,1365.6 454.2,1363.0 454.7,1360.4 455.2,1357.8 455.7,1355.2 456.2,1352.7 456.7,1350.3 457.2,1347.8 457.7,1345.4 458.2,1343.1 458.7,1340.7 459.1,1338.4 459.6,1336.2 460.1,1333.9 460.6,1331.7 461.1,1329.5 461.6,1327.4 462.1,1325.3 462.6,1323.2 463.1,1321.1 463.6,1319.1 464.1,1317.0 464.6,1315.0 465.1,1313.1 465.6,1311.1 466.1,1309.2 466.6,1307.3 467.1,1305.5 467.6,1303.6 468.1,1301.8 468.6,1300.0 469.1,1298.2 469.6,1296.5 470.1,1294.7 470.6,1293.0 471.1,1291.3 471.6,1289.7 472.1,1288.0 472.6,1286.4 473.0,1284.8 473.5,1283.2 474.0,1281.6 474.5,1280.1 475.0,1278.6 475.5,1277.0 476.0,1275.5 476.5,1274.1 477.0,1272.6 477.5,1271.2 478.0,1269.7 478.5,1268.3 478.9,1267.3 479.4,1267.4 479.9,1267.6 480.4,1267.9 480.9,1268.3 481.4,1269.0 481.9,1269.8 482.4,1270.8 482.9,1271.9 483.3,1273.3 483.8,1274.7 484.3,1276.3 484.8,1277.9 485.3,1279.7 485.8,1281.6 486.3,1283.5 486.8,1285.5 487.3,1287.5 487.8,1289.5 488.3,1291.6 488.8,1293.8 489.3,1295.9 489.8,1298.1 490.3,1300.2 490.8,1302.4 491.3,1304.6 491.8,1306.7 492.3,1308.9 492.8,1311.1 493.3,1313.2 493.8,1315.4 494.3,1317.5 494.8,1319.6 495.3,1321.7 495.8,1323.8 496.3,1325.9 496.8,1328.0 497.2,1330.0 497.7,1332.0 498.2,1334.1 498.7,1336.1 499.2,1338.1 499.7,1340.1 500.2,1342.0 500.7,1344.0 501.2,1345.9 501.7,1347.8 502.2,1349.8 502.7,1351.7 503.2,1353.6 503.7,1355.4 504.2,1357.3 504.7,1359.1 505.2,1361.0 505.7,1362.8 506.2,1364.6 506.7,1366.4 507.2,1368.2 507.7,1370.0 508.2,1371.8 508.7,1373.5 509.2,1375.3 509.7,1377.0 510.2,1378.7 510.7,1380.4 511.2,1382.1 511.6,1383.8 512.1,1385.5 512.6,1387.2 513.1,1388.8 513.6,1390.5 514.1,1392.1 514.6,1393.8 515.1,1395.4 515.6,1397.0 516.1,1398.6 516.6,1400.2 517.1,1401.8 517.6,1403.3 518.1,1404.9 518.6,1406.4 519.1,1408.0 519.6,1409.5 520.1,1411.0 520.6,1412.5 521.1,1414.0 521.6,1415.5 522.1,1417.0 522.6,1418.5 523.1,1419.9 523.6,1421.4 524.1,1422.8 524.6,1424.3 525.1,1425.7 525.5,1427.1 526.0,1428.5 526.5,1429.9 527.0,1431.3 527.5,1432.6 528.0,1434.0 528.5,1435.4 529.0,1436.7 529.5,1438.0 530.0,1439.4 530.5,1440.7 531.0,1442.0 531.5,1443.3 532.0,1444.6 532.5,1445.8 533.0,1447.1 533.5,1448.4 534.0,1449.6 534.5,1450.9 535.0,1452.1 535.5,1453.3 536.0,1454.5 536.5,1455.7 537.0,1456.9 537.5,1458.1 538.0,1459.3 538.5,1460.5 539.0,1461.6 539.5,1462.8 539.9,1463.9 540.4,1465.1 540.9,1466.2 541.4,1467.3 541.9,1468.4 542.4,1469.5 542.9,1470.6 543.4,1471.7 543.9,1472.8 544.4,1473.8 544.9,1474.9 545.4,1475.9 545.9,1477.0 546.4,1478.0 546.9,1479.0 547.4,1480.1 547.9,1481.1 548.4,1482.1 548.9,1483.1 549.4,1484.0 549.9,1485.0 550.4,1486.0 550.9,1487.0 551.4,1487.9 551.9,1488.9 552.4,1489.8 552.9,1490.7 553.4,1491.7 553.9,1492.6 554.3,1493.5 554.8,1494.4 555.3,1495.3 555.8,1496.2 556.3,1497.0 556.8,1497.9 557.3,1498.8 557.8,1499.6 558.3,1500.5 558.8,1501.3 559.3,1502.2 559.8,1503.0 560.3,1503.8 560.8,1504.7 561.3,1505.5 561.8,1506.3 562.3,1507.1 562.8,1507.9 563.3,1508.7 563.8,1509.4 564.3,1510.2 564.8,1511.0 565.3,1511.8 565.8,1512.5 566.3,1513.3 566.8,1514.0 567.3,1514.7 567.8,1515.5 568.2,1516.2 568.7,1516.9 569.2,1517.6 569.7,1518.3 570.2,1519.0 570.7,1519.7 571.2,1520.4 571.7,1521.1 572.2,1521.8 572.7,1522.5 573.2,1523.1 573.7,1523.8 574.2,1524.5 574.7,1525.1 575.2,1525.8 575.7,1526.4 576.2,1527.0 576.7,1527.7 577.2,1528.3 577.7,1528.9 578.2,1529.5 578.7,1530.2 579.2,1530.8 579.7,1531.4 580.2,1532.0 580.7,1532.6 581.2,1533.1 581.7,1533.7 582.2,1534.3 582.6,1534.9 585.6,1538.2 588.6,1541.4 591.6,1544.5 594.6,1547.4 597.5,1550.2 600.5,1552.8 603.5,1555.3 606.5,1557.7 609.5,1560.0 612.4,1562.2 615.4,1564.4 618.4,1566.4 621.4,1568.3 624.4,1570.2 627.3,1571.9 630.3,1573.6 633.3,1575.3 636.3,1576.8 639.2,1578.3 642.2,1579.8 645.2,1581.2 648.2,1582.5 651.2,1583.8 654.1,1585.0 657.1,1586.2 660.1,1587.4 663.1,1588.5 666.1,1589.5 669.0,1590.6 672.0,1591.6 675.0,1592.5 678.0,1593.5 681.0,1594.4 683.9,1595.3 686.9,1596.1 689.9,1596.9 692.9,1597.8 695.8,1598.5 698.8,1599.3 701.8,1600.0 704.8,1600.7 707.8,1601.4 710.7,1602.1 713.7,1602.8 716.7,1603.4 719.7,1604.1 722.7,1604.7 725.6,1605.3 728.6,1605.9 731.6,1606.4 734.6,1607.0 737.6,1607.5 740.5,1608.1 743.5,1608.6 746.5,1609.1 749.5,1609.6 752.5,1610.1 755.4,1610.6 758.4,1611.0 761.4,1611.5 764.4,1611.9 767.3,1612.4 770.3,1612.8 773.3,1613.2 776.3,1613.6 779.3,1614.0 782.2,1614.4 785.2,1614.8 788.2,1615.2 791.2,1615.6 794.2,1615.9 797.1,1616.3 800.1,1616.7 803.1,1617.0 806.1,1617.3 809.1,1617.7 812.0,1618.0 815.0,1618.3 818.0,1618.6 821.0,1618.9 823.9,1619.2 826.9,1619.5 829.9,1619.8 832.9,1620.1 835.9,1620.4 838.8,1620.6 841.8,1620.9 844.8,1621.1 847.8,1621.4 850.8,1621.6 853.7,1621.9 856.7,1622.1 859.7,1622.3 862.7,1622.5 865.7,1622.8 868.6,1623.0 871.6,1623.2 874.6,1623.4 877.6,1623.6 880.5,1623.7 883.5,1623.9 886.5,1624.1 889.5,1624.3 892.5,1624.4 895.4,1624.6 898.4,1624.7 901.4,1624.9 904.4,1625.0 907.4,1625.2 910.3,1625.3 913.3,1625.4 916.3,1625.5 919.3,1625.7" fill="none" stroke="#7f3f08" stroke-width="2.35" stroke-linejoin="round" stroke-dasharray="17.15 7.35"/>
<polyline points="423.4,1724.4 424.2,1724.1 425.0,1723.9 425.7,1723.6 426.5,1723.4 427.3,1723.1 428.1,1722.8 428.9,1722.6 429.7,1722.3 430.5,1722.1 431.2,1721.8 432.0,1721.6 432.8,1721.3 433.6,1721.0 434.4,1720.8 435.2,1720.5 436.0,1720.3 436.7,1720.0 437.5,1719.8 438.3,1719.5 439.1,1719.3 439.9,1719.0 440.7,1718.8 441.5,1718.5 442.2,1718.3 443.0,1718.0 443.8,1717.8 444.6,1717.5 445.4,1717.3 446.2,1717.0 447.0,1716.8 447.8,1716.5 448.6,1716.3 449.4,1716.1 450.2,1715.8 451.0,1715.6 451.8,1715.4 452.6,1715.1 453.4,1714.9 454.2,1714.7 455.0,1714.5 455.8,1714.3 456.6,1714.0 457.4,1713.8 458.2,1713.6 459.0,1713.4 459.8,1713.2 460.6,1713.0 461.4,1712.7 462.2,1712.5 463.0,1712.3 463.8,1712.1 464.6,1711.8 465.4,1711.6 466.2,1711.4 467.0,1711.2 467.8,1710.9 468.6,1710.7 469.4,1710.5 470.2,1710.2 471.0,1710.0 471.8,1709.8 472.6,1709.5 473.4,1709.3 474.2,1709.1 475.0,1708.9 475.8,1708.7 476.6,1708.5 477.4,1708.3 478.3,1708.1 479.1,1708.0 479.9,1707.8 480.7,1707.6 481.6,1707.5 482.4,1707.3 483.2,1707.2 484.0,1707.0 484.9,1706.9 485.7,1706.8 486.5,1706.6 488.2,1706.4 490.7,1706.1 493.3,1705.8 495.8,1705.5 498.3,1705.2 500.8,1705.0 503.4,1704.7 505.9,1704.6 508.5,1704.4 511.0,1704.3 513.6,1704.1 516.1,1704.0 518.7,1704.0 521.2,1703.9 523.8,1703.8 526.3,1703.8 528.9,1703.8 531.4,1703.7 534.0,1703.7 536.5,1703.7 539.1,1703.6 541.6,1703.6 544.2,1703.6 546.7,1703.6 549.3,1703.5 551.8,1703.5 554.4,1703.5 556.9,1703.5 559.5,1703.5 562.0,1703.5 564.6,1703.4 567.1,1703.4 569.7,1703.4 572.2,1703.4 574.8,1703.4 577.3,1703.4 579.9,1703.4 582.4,1703.4 585.0,1703.3 587.5,1703.3 590.1,1703.3 592.7,1703.3 595.2,1703.3 597.8,1703.3 600.3,1703.3 602.9,1703.3 605.4,1703.3 608.0,1703.2 610.5,1703.2 613.1,1703.2 615.6,1703.2 618.2,1703.2 620.7,1703.2 623.3,1703.2 625.8,1703.2 628.4,1703.2 630.9,1703.2 633.5,1703.2 636.0,1703.1 638.6,1703.1 641.1,1703.1 643.7,1703.1 646.2,1703.1 648.8,1703.1 651.3,1703.1 653.9,1703.1 656.5,1703.1 659.0,1703.1 661.6,1703.1 664.1,1703.0 666.7,1703.0 669.2,1703.0 671.8,1703.0 674.3,1703.0 676.9,1703.0 679.4,1703.0 682.0,1703.0 684.5,1703.0 687.1,1703.0 689.6,1703.0 692.2,1702.9 694.7,1702.9 697.3,1702.9 699.8,1702.9 702.4,1702.9 704.9,1702.9 707.5,1702.9 710.0,1702.9 712.6,1702.9 715.1,1702.9 717.7,1702.9 720.2,1702.9 722.8,1702.8 725.4,1702.8 727.9,1702.8 730.5,1702.8 733.0,1702.8 735.6,1702.8 738.1,1702.8 740.7,1702.8 743.2,1702.8 745.8,1702.8 748.3,1702.8 750.9,1702.8 753.4,1702.8 756.0,1702.7 758.5,1702.7 761.1,1702.7 763.6,1702.7 766.2,1702.7 768.7,1702.7 771.3,1702.7 773.8,1702.7 776.4,1702.7 778.9,1702.7 781.5,1702.7 784.0,1702.7 786.6,1702.7 789.2,1702.7 791.7,1702.6 794.3,1702.6 796.8,1702.6 799.4,1702.6 801.9,1702.6 804.5,1702.6 807.0,1702.6 809.6,1702.6 812.1,1702.6 814.7,1702.6 817.2,1702.6 819.8,1702.6 822.3,1702.6 824.9,1702.6 827.4,1702.6 830.0,1702.6 832.5,1702.5 835.1,1702.5 837.6,1702.5 840.2,1702.5 842.7,1702.5 845.3,1702.5 847.8,1702.5 850.4,1702.5 853.0,1702.5 855.5,1702.5 858.1,1702.5 860.6,1702.5 863.2,1702.5 865.7,1702.5 868.3,1702.5 870.8,1702.5 873.4,1702.5 875.9,1702.5 878.5,1702.5 881.0,1702.5 883.6,1702.5 886.1,1702.4 888.7,1702.4 891.2,1702.4 893.8,1702.4 896.3,1702.4 898.9,1702.4 901.4,1702.4 904.0,1702.4 906.5,1702.4 909.1,1702.4 911.6,1702.4 914.2,1702.4 916.8,1702.4 919.3,1702.4 919.7,1702.4" fill="none" stroke="#6350f8" stroke-width="2.35" stroke-linejoin="round" stroke-dasharray="2.45 7.35"/>
<polyline points="423.4,1724.4 424.0,1723.9 424.6,1723.4 425.2,1722.9 425.7,1722.5 426.3,1722.0 426.9,1721.5 427.5,1721.0 428.1,1720.6 428.7,1720.1 429.3,1719.6 429.9,1719.2 430.6,1718.7 431.2,1718.3 431.8,1717.8 432.5,1717.4 433.1,1716.9 433.7,1716.5 434.4,1716.1 435.0,1715.6 435.7,1715.2 436.4,1714.8 437.0,1714.4 437.7,1714.0 438.4,1713.6 439.0,1713.1 439.7,1712.7 440.4,1712.3 441.1,1711.9 441.7,1711.5 442.4,1711.1 443.1,1710.7 443.7,1710.3 444.4,1709.8 445.1,1709.4 445.7,1709.0 446.4,1708.6 447.0,1708.2 447.7,1707.7 448.3,1707.3 449.0,1706.9 449.6,1706.4 450.3,1706.0 450.9,1705.6 451.6,1705.1 452.2,1704.7 452.8,1704.3 453.5,1703.8 454.1,1703.4 454.8,1703.0 455.4,1702.5 456.1,1702.1 456.7,1701.7 457.4,1701.2 458.0,1700.8 458.7,1700.4 459.3,1700.0 460.0,1699.5 460.7,1699.1 461.3,1698.7 462.0,1698.3 462.7,1697.9 463.3,1697.4 464.0,1697.0 464.7,1696.6 465.3,1696.2 466.0,1695.8 466.7,1695.4 467.4,1695.0 468.0,1694.6 468.7,1694.2 469.4,1693.8 470.1,1693.4 470.8,1693.0 471.5,1692.7 472.2,1692.3 472.9,1691.9 473.6,1691.6 474.3,1691.2 475.1,1690.9 476.5,1690.2 478.7,1689.2 481.0,1688.2 483.3,1687.4 485.6,1686.5 488.0,1685.7 490.3,1685.0 492.7,1684.4 495.2,1683.7 497.6,1683.2 500.1,1682.7 502.6,1682.2 505.0,1681.8 507.6,1681.4 510.1,1681.1 512.6,1680.8 515.1,1680.6 517.7,1680.4 520.2,1680.2 522.8,1680.1 525.3,1679.9 527.9,1679.8 530.4,1679.7 533.0,1679.7 535.5,1679.6 538.1,1679.5 540.6,1679.4 543.2,1679.3 545.7,1679.3 548.3,1679.2 550.8,1679.2 553.4,1679.1 555.9,1679.0 558.5,1679.0 561.0,1678.9 563.6,1678.9 566.1,1678.9 568.7,1678.8 571.2,1678.8 573.8,1678.7 576.3,1678.7 578.9,1678.7 581.5,1678.6 584.0,1678.6 586.6,1678.6 589.1,1678.5 591.7,1678.5 594.2,1678.5 596.8,1678.4 599.3,1678.4 601.9,1678.4 604.4,1678.4 607.0,1678.3 609.5,1678.3 612.1,1678.3 614.6,1678.2 617.2,1678.2 619.7,1678.2 622.3,1678.2 624.9,1678.1 627.4,1678.1 630.0,1678.1 632.5,1678.1 635.1,1678.0 637.6,1678.0 640.2,1678.0 642.7,1678.0 645.3,1677.9 647.8,1677.9 650.4,1677.9 652.9,1677.9 655.5,1677.8 658.0,1677.8 660.6,1677.8 663.1,1677.8 665.7,1677.8 668.3,1677.7 670.8,1677.7 673.4,1677.7 675.9,1677.7 678.5,1677.7 681.0,1677.6 683.6,1677.6 686.1,1677.6 688.7,1677.6 691.2,1677.6 693.8,1677.6 696.3,1677.5 698.9,1677.5 701.4,1677.5 704.0,1677.5 706.5,1677.5 709.1,1677.5 711.7,1677.4 714.2,1677.4 716.8,1677.4 719.3,1677.4 721.9,1677.4 724.4,1677.3 727.0,1677.3 729.5,1677.3 732.1,1677.3 734.6,1677.3 737.2,1677.3 739.7,1677.2 742.3,1677.2 744.8,1677.2 747.4,1677.2 749.9,1677.2 752.5,1677.2 755.1,1677.1 757.6,1677.1 760.2,1677.1 762.7,1677.1 765.3,1677.1 767.8,1677.1 770.4,1677.1 772.9,1677.0 775.5,1677.0 778.0,1677.0 780.6,1677.0 783.1,1677.0 785.7,1677.0 788.2,1676.9 790.8,1676.9 793.4,1676.9 795.9,1676.9 798.5,1676.9 801.0,1676.9 803.6,1676.9 806.1,1676.8 808.7,1676.8 811.2,1676.8 813.8,1676.8 816.3,1676.8 818.9,1676.8 821.4,1676.8 824.0,1676.8 826.5,1676.7 829.1,1676.7 831.6,1676.7 834.2,1676.7 836.8,1676.7 839.3,1676.7 841.9,1676.7 844.4,1676.7 847.0,1676.6 849.5,1676.6 852.1,1676.6 854.6,1676.6 857.2,1676.6 859.7,1676.6 862.3,1676.6 864.8,1676.6 867.4,1676.6 869.9,1676.6 872.5,1676.5 875.1,1676.5 877.6,1676.5 880.2,1676.5 882.7,1676.5 885.3,1676.5 887.8,1676.5 890.4,1676.5 892.9,1676.5 895.5,1676.5 898.0,1676.5 900.6,1676.5 903.1,1676.5 905.7,1676.4 908.2,1676.4 910.8,1676.4 913.3,1676.4 915.9,1676.4 918.5,1676.4 919.7,1676.4" fill="none" stroke="#5240e2" stroke-width="2.35" stroke-linejoin="round" stroke-dasharray="9.80 9.80"/>
<polyline points="423.4,1724.4 423.7,1723.8 424.1,1723.2 424.4,1722.6 424.7,1722.0 425.1,1721.3 425.4,1720.7 425.8,1720.1 426.2,1719.5 426.6,1718.9 426.9,1718.3 427.3,1717.8 427.7,1717.2 428.1,1716.6 428.6,1716.0 429.0,1715.4 429.4,1714.8 429.8,1714.3 430.3,1713.7 430.7,1713.1 431.1,1712.6 431.6,1712.0 432.0,1711.4 432.5,1710.8 432.9,1710.3 433.4,1709.7 433.8,1709.1 434.2,1708.6 434.7,1708.0 435.1,1707.4 435.6,1706.9 436.0,1706.3 436.4,1705.7 436.8,1705.1 437.3,1704.6 437.7,1704.0 438.1,1703.4 438.6,1702.8 439.0,1702.3 439.4,1701.7 439.9,1701.1 440.3,1700.5 440.7,1700.0 441.1,1699.4 441.6,1698.8 442.0,1698.2 442.4,1697.6 442.9,1697.1 443.3,1696.5 443.7,1695.9 444.1,1695.3 444.6,1694.8 445.0,1694.2 445.4,1693.6 445.9,1693.0 446.3,1692.5 446.7,1691.9 447.1,1691.3 447.6,1690.7 448.0,1690.2 448.4,1689.6 448.9,1689.0 449.3,1688.4 449.7,1687.9 450.1,1687.3 450.6,1686.7 451.0,1686.1 451.4,1685.5 451.8,1685.0 452.3,1684.4 452.7,1683.8 453.1,1683.2 453.6,1682.7 454.0,1682.1 454.4,1681.5 454.8,1680.9 455.3,1680.4 455.7,1679.8 456.1,1679.2 456.5,1678.6 457.4,1677.5 458.7,1675.7 460.0,1674.0 461.3,1672.3 462.5,1670.6 463.8,1668.8 465.1,1667.1 466.5,1665.4 467.8,1663.7 469.1,1662.0 470.4,1660.3 471.7,1658.6 473.1,1656.9 474.6,1655.3 476.2,1653.7 477.9,1652.3 479.7,1650.9 481.6,1649.5 483.6,1648.3 485.7,1647.1 487.8,1646.0 490.0,1645.0 492.3,1644.1 494.6,1643.2 496.9,1642.5 499.3,1641.9 501.8,1641.3 504.3,1640.9 506.8,1640.5 509.3,1640.1 511.8,1639.8 514.3,1639.6 516.9,1639.4 519.4,1639.3 522.0,1639.2 524.5,1639.1 527.1,1639.0 529.6,1639.0 532.2,1639.0 534.7,1638.9 537.3,1638.9 539.8,1638.9 542.4,1638.9 544.9,1638.8 547.5,1638.8 550.0,1638.8 552.6,1638.7 555.1,1638.7 557.7,1638.6 560.3,1638.6 562.8,1638.5 565.4,1638.5 567.9,1638.4 570.5,1638.4 573.0,1638.3 575.6,1638.3 578.1,1638.2 580.7,1638.2 583.2,1638.2 585.8,1638.1 588.3,1638.1 590.9,1638.1 593.4,1638.1 596.0,1638.1 598.5,1638.0 601.1,1638.0 603.6,1638.0 606.2,1638.0 608.7,1638.0 611.3,1638.0 613.8,1637.9 616.4,1637.9 619.0,1637.9 621.5,1637.9 624.1,1637.9 626.6,1637.9 629.2,1637.9 631.7,1637.8 634.3,1637.8 636.8,1637.8 639.4,1637.8 641.9,1637.8 644.5,1637.8 647.0,1637.8 649.6,1637.7 652.1,1637.7 654.7,1637.7 657.2,1637.7 659.8,1637.7 662.3,1637.7 664.9,1637.7 667.5,1637.7 670.0,1637.6 672.6,1637.6 675.1,1637.6 677.7,1637.6 680.2,1637.6 682.8,1637.6 685.3,1637.6 687.9,1637.6 690.4,1637.5 693.0,1637.5 695.5,1637.5 698.1,1637.5 700.6,1637.5 703.2,1637.5 705.7,1637.5 708.3,1637.5 710.8,1637.5 713.4,1637.4 715.9,1637.4 718.5,1637.4 721.1,1637.4 723.6,1637.4 726.2,1637.4 728.7,1637.4 731.3,1637.4 733.8,1637.4 736.4,1637.4 738.9,1637.3 741.5,1637.3 744.0,1637.3 746.6,1637.3 749.1,1637.3 751.7,1637.3 754.2,1637.3 756.8,1637.3 759.3,1637.3 761.9,1637.3 764.4,1637.3 767.0,1637.3 769.6,1637.2 772.1,1637.2 774.7,1637.2 777.2,1637.2 779.8,1637.2 782.3,1637.2 784.9,1637.2 787.4,1637.2 790.0,1637.2 792.5,1637.2 795.1,1637.2 797.6,1637.2 800.2,1637.2 802.7,1637.2 805.3,1637.2 807.8,1637.1 810.4,1637.1 812.9,1637.1 815.5,1637.1 818.1,1637.1 820.6,1637.1 823.2,1637.1 825.7,1637.1 828.3,1637.1 830.8,1637.1 833.4,1637.1 835.9,1637.1 838.5,1637.1 841.0,1637.1 843.6,1637.1 846.1,1637.1 848.7,1637.1 851.2,1637.1 853.8,1637.1 856.3,1637.1 858.9,1637.1 861.4,1637.1 864.0,1637.1 866.6,1637.1 869.1,1637.0 871.7,1637.0 874.2,1637.0 876.8,1637.0 879.3,1637.0 881.9,1637.0 884.4,1637.0 887.0,1637.0 889.5,1637.0 892.1,1637.0 894.6,1637.0 897.2,1637.0 899.7,1637.0 902.3,1637.0 904.8,1637.0 907.4,1637.0 909.9,1637.0 912.5,1637.0 915.1,1637.0 917.6,1637.0 919.7,1637.0" fill="none" stroke="#3f2cc4" stroke-width="2.35" stroke-linejoin="round" stroke-dasharray="2.45 7.35 9.80 7.35"/>
<polyline points="423.4,1724.4 423.5,1723.7 423.7,1723.1 423.8,1722.4 424.0,1721.8 424.1,1721.1 424.3,1720.5 424.4,1719.8 424.6,1719.1 424.7,1718.5 424.9,1717.8 425.0,1717.2 425.2,1716.5 425.3,1715.9 425.5,1715.2 425.6,1714.6 425.7,1713.9 425.9,1713.2 426.0,1712.6 426.2,1711.9 426.3,1711.3 426.4,1710.6 426.6,1709.9 426.7,1709.3 426.9,1708.6 427.0,1708.0 427.1,1707.3 427.3,1706.7 427.4,1706.0 427.6,1705.3 427.7,1704.7 427.8,1704.0 428.0,1703.4 428.1,1702.7 428.2,1702.1 428.4,1701.4 428.5,1700.7 428.6,1700.1 428.8,1699.4 428.9,1698.8 429.0,1698.1 429.1,1697.4 429.3,1696.8 429.4,1696.1 429.5,1695.5 429.7,1694.8 429.8,1694.1 429.9,1693.5 430.0,1692.8 430.2,1692.2 430.3,1691.5 430.4,1690.9 430.5,1690.2 430.7,1689.5 430.8,1688.9 430.9,1688.2 431.0,1687.6 431.2,1686.9 431.3,1686.2 431.4,1685.6 431.5,1684.9 431.6,1684.3 431.7,1683.6 431.9,1682.9 432.0,1682.3 432.1,1681.6 432.2,1681.0 432.3,1680.3 432.4,1679.6 432.5,1679.0 432.7,1678.3 432.8,1677.7 432.9,1677.0 433.0,1676.3 433.1,1675.7 433.2,1675.0 433.3,1674.3 433.4,1673.7 433.5,1673.0 433.7,1672.4 433.9,1671.0 434.2,1669.1 434.6,1667.1 434.9,1665.1 435.3,1663.1 435.7,1661.1 436.1,1659.2 436.5,1657.2 436.9,1655.2 437.3,1653.3 437.8,1651.3 438.2,1649.3 438.7,1647.3 439.1,1645.4 439.6,1643.4 440.0,1641.4 440.5,1639.5 440.9,1637.5 441.4,1635.5 441.8,1633.6 442.3,1631.6 442.7,1629.6 443.2,1627.7 443.6,1625.7 444.1,1623.7 444.5,1621.8 445.0,1619.8 445.5,1617.8 445.9,1615.9 446.4,1613.9 446.8,1611.9 447.3,1610.0 447.7,1608.0 448.2,1606.0 448.7,1604.1 449.1,1602.1 449.6,1600.1 450.0,1598.2 450.5,1596.2 451.0,1594.2 451.5,1592.3 451.9,1590.3 452.4,1588.3 452.9,1586.4 453.4,1584.4 453.9,1582.4 454.4,1580.5 454.9,1578.5 455.4,1576.6 455.9,1574.6 456.4,1572.6 456.9,1570.7 457.4,1568.7 457.9,1566.8 458.4,1564.8 458.9,1562.8 459.4,1560.9 460.0,1558.9 460.5,1557.0 461.0,1555.0 461.5,1553.0 462.0,1551.1 462.5,1549.1 463.0,1547.2 463.5,1545.2 464.0,1543.2 464.4,1541.3 464.8,1539.3 465.2,1537.3 465.6,1535.3 466.0,1533.4 466.4,1531.4 466.7,1529.4 467.1,1527.4 467.5,1525.5 467.9,1523.5 468.3,1521.5 468.7,1519.5 469.1,1517.6 469.5,1515.6 470.0,1513.6 470.4,1511.6 470.9,1509.7 471.3,1507.7 471.8,1505.7 472.3,1503.8 472.8,1501.8 473.3,1499.9 473.8,1497.9 474.3,1495.9 474.9,1494.0 475.4,1492.0 476.0,1490.1 476.5,1488.1 477.1,1486.2 477.7,1484.2 478.4,1482.3 479.0,1480.4 479.8,1478.5 480.6,1476.6 481.4,1474.7 482.3,1472.8 483.2,1470.9 484.1,1469.1 485.1,1467.2 486.0,1465.4 487.1,1463.5 488.1,1461.7 489.3,1460.0 490.6,1458.2 492.0,1456.6 493.6,1455.0 495.3,1453.5 497.0,1452.0 498.8,1450.6 500.6,1449.2 502.5,1447.9 504.4,1446.6 506.4,1445.3 508.5,1444.2 510.7,1443.3 513.0,1442.4 515.4,1441.7 517.8,1441.1 520.2,1440.6 522.7,1440.1 525.2,1439.8 527.8,1439.4 530.3,1439.2 532.8,1439.0 535.4,1438.8 537.9,1438.7 540.5,1438.6 543.0,1438.6 545.6,1438.5 548.1,1438.5 550.7,1438.5 553.2,1438.5 555.8,1438.5 558.3,1438.5 560.9,1438.5 563.4,1438.5 566.0,1438.6 568.5,1438.6 571.1,1438.7 573.6,1438.8 576.2,1438.9 578.7,1439.0 581.3,1439.1 583.8,1439.2 586.4,1439.2 588.9,1439.2 591.5,1439.3 594.0,1439.2 596.6,1439.2 599.1,1439.2 601.7,1439.2 604.2,1439.1 606.8,1439.1 609.3,1439.0 611.9,1439.0 614.4,1438.9 617.0,1438.8 619.5,1438.8 622.1,1438.7 624.6,1438.6 627.2,1438.5 629.7,1438.4 632.3,1438.3 634.8,1438.2 637.4,1438.0 639.9,1437.9 642.5,1437.8 645.0,1437.7 647.6,1437.7 650.1,1437.6 652.7,1437.5 655.2,1437.4 657.8,1437.3 660.3,1437.2 662.9,1437.1 665.4,1437.1 668.0,1437.0 670.5,1436.9 673.1,1436.8 675.6,1436.7 678.2,1436.7 680.7,1436.6 683.3,1436.5 685.8,1436.4 688.4,1436.4 690.9,1436.3 693.5,1436.2 696.0,1436.1 698.6,1436.1 701.1,1436.0 703.7,1435.9 706.2,1435.8 708.8,1435.8 711.3,1435.7 713.9,1435.6 716.4,1435.6 719.0,1435.5 721.5,1435.4 724.1,1435.4 726.6,1435.3 729.2,1435.2 731.7,1435.2 734.3,1435.1 736.8,1435.0 739.4,1435.0 741.9,1434.9 744.5,1434.9 747.0,1434.8 749.6,1434.8 752.1,1434.7 754.7,1434.7 757.3,1434.6 759.8,1434.6 762.4,1434.5 764.9,1434.5 767.5,1434.5 770.0,1434.4 772.6,1434.4 775.1,1434.3 777.7,1434.3 780.2,1434.3 782.8,1434.2 785.3,1434.2 787.9,1434.2 790.4,1434.2 793.0,1434.1 795.5,1434.1 798.1,1434.1 800.6,1434.1 803.2,1434.1 805.7,1434.0 808.3,1434.0 810.8,1434.0 813.4,1434.0 815.9,1434.0 818.5,1434.0 821.0,1434.0 823.6,1433.9 826.2,1433.9 828.7,1433.9 831.3,1433.9 833.8,1433.9 836.4,1433.9 838.9,1433.9 841.5,1433.9 844.0,1433.9 846.6,1433.9 849.1,1433.8 851.7,1433.8 854.2,1433.8 856.8,1433.8 859.3,1433.8 861.9,1433.8 864.4,1433.8 867.0,1433.8 869.5,1433.8 872.1,1433.8 874.6,1433.8 877.2,1433.8 879.7,1433.8 882.3,1433.7 884.9,1433.7 887.4,1433.7 890.0,1433.7 892.5,1433.7 895.1,1433.7 897.6,1433.7 900.2,1433.7 902.7,1433.7 905.3,1433.7 907.8,1433.7 910.4,1433.7" fill="none" stroke="#1e1878" stroke-width="2.35" stroke-linejoin="round" stroke-dasharray="17.15 7.35"/>
</g>
<text class="pl" x="448.8" y="1247.9" textLength="22.8" lengthAdjust="spacingAndGlyphs">E</text>
<text class="pt" y="1250.2"><tspan x="530.1" textLength="48.2" lengthAdjust="spacingAndGlyphs">All</tspan> <tspan x="587.9" textLength="154.2" lengthAdjust="spacingAndGlyphs">systems</tspan></text>
<text class="lb" x="926.8" y="1445.3" fill="#1e1878" textLength="135" lengthAdjust="spacingAndGlyphs">Cultured-d</text>
<line x1="925.1" y1="1622.7" x2="969.8" y2="1557.2" stroke="#7f3f08" stroke-width="1.1" opacity="0.85"/>
<text class="lb" x="977.6" y="1567.3" fill="#7f3f08" textLength="192.6" lengthAdjust="spacingAndGlyphs">Mid-West USA</text>
<line x1="925.1" y1="1637.4" x2="969.8" y2="1587.7" stroke="#3f2cc4" stroke-width="1.1" opacity="0.85"/>
<text class="lb" x="977.6" y="1598.4" fill="#3f2cc4" textLength="135" lengthAdjust="spacingAndGlyphs">Cultured-c</text>
<line x1="925.1" y1="1676.4" x2="969.8" y2="1619.3" stroke="#5240e2" stroke-width="1.1" opacity="0.85"/>
<text class="lb" x="977.6" y="1630.1" fill="#5240e2" textLength="135" lengthAdjust="spacingAndGlyphs">Cultured-b</text>
<line x1="925.1" y1="1700.3" x2="969.8" y2="1650.9" stroke="#c9772f" stroke-width="1.1" opacity="0.85"/>
<text class="lb" x="977.6" y="1661.2" fill="#c9772f" textLength="72.6" lengthAdjust="spacingAndGlyphs">Brazil</text>
<line x1="925.1" y1="1701.7" x2="969.8" y2="1682.5" stroke="#6350f8" stroke-width="1.1" opacity="0.85"/>
<text class="lb" x="977.6" y="1692.6" fill="#6350f8" textLength="135" lengthAdjust="spacingAndGlyphs">Cultured-a</text>
<line x1="925.1" y1="1706.2" x2="969.8" y2="1714.1" stroke="#f28e3a" stroke-width="1.1" opacity="0.85"/>
<text class="lb" x="977.6" y="1724.2" fill="#f28e3a" textLength="104.4" lengthAdjust="spacingAndGlyphs">Sweden</text>
</svg>
</body></html>
